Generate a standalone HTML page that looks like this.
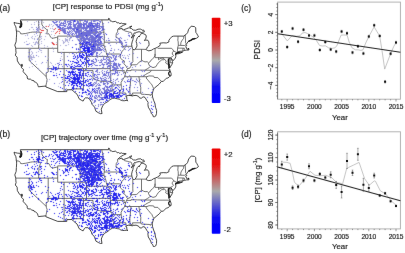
<!DOCTYPE html><html><head><meta charset="utf-8"><style>
html,body{margin:0;padding:0;background:#fff;width:405px;height:253px;overflow:hidden}
svg{display:block;font-family:"Liberation Sans",sans-serif}
</style></head><body>
<svg width="405" height="253" viewBox="0 0 405 253" xmlns="http://www.w3.org/2000/svg">
<defs>
<filter id="bl" x="0" y="0" width="405" height="253" filterUnits="userSpaceOnUse"><feConvolveMatrix order="3" kernelMatrix="0.0113 0.0838 0.0113 0.0838 0.6193 0.0838 0.0113 0.0838 0.0113" edgeMode="none"/></filter>
<filter id="bl2" x="0" y="0" width="405" height="253" filterUnits="userSpaceOnUse"><feConvolveMatrix order="3" kernelMatrix="0.0003 0.0158 0.0003 0.0158 0.9358 0.0158 0.0003 0.0158 0.0003" edgeMode="none"/></filter>
<filter id="bl3" x="0" y="0" width="405" height="253" filterUnits="userSpaceOnUse"><feConvolveMatrix order="3" kernelMatrix="0.0016 0.0371 0.0016 0.0371 0.8450 0.0371 0.0016 0.0371 0.0016" edgeMode="none"/></filter>
<linearGradient id="cb" x1="0" y1="0" x2="0" y2="1">
<stop offset="0" stop-color="#ee0000"/><stop offset="0.18" stop-color="#e80a0a"/>
<stop offset="0.5" stop-color="#aaaaaa"/>
<stop offset="0.82" stop-color="#0a0af0"/><stop offset="1" stop-color="#0000ff"/>
</linearGradient>
</defs>
<rect width="405" height="253" fill="#fff"/>
<g filter="url(#bl2)">
<path d="M20.4 20.9L21.4 21.5L21.7 23.1L21.9 24.8L21.7 26.4L20.9 27.6L19.8 27.8L19.5 26.8L20.4 26.0L20.7 24.4L20.6 22.7ZM21.4 64.4L22.2 64.2L22.5 65.8L22.2 66.6L21.5 65.8Z" fill="#111" stroke="#111" stroke-width="0.5"/>
<path d="M189.0 41.2L190.6 40.4L192.2 39.4L193.5 39.0L194.8 38.6" fill="none" stroke="#222" stroke-width="1.5" stroke-linecap="round" stroke-linejoin="round"/>
<path d="M175.6 54.0L176.6 53.4L177.8 52.6L179.4 52.2" fill="none" stroke="#222" stroke-width="1.2" stroke-linecap="round" stroke-linejoin="round"/>
<path d="M168.4 58.9L168.6 60.5L168.8 62.1L168.6 63.7L168.9 65.4L169.2 67.4" fill="none" stroke="#222" stroke-width="1.3" stroke-linecap="round" stroke-linejoin="round"/>
<path d="M169.6 71.5L168.6 73.1L168.9 74.7L169.9 75.5" fill="none" stroke="#222" stroke-width="1.3" stroke-linecap="round" stroke-linejoin="round"/>
<path d="M14.1 22.4L15.5 22.9L17.4 23.3L19.3 23.5L20.3 23.6L20.4 25.2L19.8 27.2L21.1 26.8L21.5 25.4L21.9 24.0L21.2 22.3L20.7 20.9L20.4 19.9L108.5 19.9L108.5 18.4L109.4 18.6L110.0 20.4L110.2 21.0L111.3 21.1L112.8 21.8L113.9 21.6L115.5 21.4L116.6 22.1L117.3 23.0L118.5 22.7L119.8 23.6L121.7 23.1L122.3 23.6L123.9 23.6L126.2 24.0L123.6 25.2L120.7 26.8L118.2 29.0L119.2 29.2L121.1 28.5L122.0 28.2L122.3 29.6L123.6 29.8L126.2 28.8L128.4 28.0L130.0 26.6L131.9 26.1L130.6 27.2L129.7 28.2L131.3 28.4L133.2 30.0L135.7 30.3L138.0 29.2L140.8 29.0L142.1 30.3L143.7 30.0L144.4 31.9L142.4 32.3L141.6 32.6L139.2 31.7L136.7 32.3L134.8 33.3L134.5 32.7L132.5 35.7L131.3 38.0L132.9 36.7L134.5 34.9L133.2 37.8L132.9 39.8L132.2 41.8L131.6 44.3L131.9 46.3L132.5 48.7L132.8 49.5L134.5 49.7L135.1 49.3L136.1 47.9L137.0 45.9L136.7 43.4L136.1 41.6L136.7 39.4L137.3 37.8L138.9 36.1L139.2 37.0L139.9 35.3L140.8 34.5L141.5 33.1L143.4 33.7L145.6 34.7L146.3 36.1L145.9 38.2L144.4 40.6L145.6 40.2L147.5 40.0L148.8 41.8L149.1 44.3L148.8 45.9L147.5 46.9L146.9 48.3L145.8 49.4L147.2 50.3L148.8 50.8L151.4 50.3L153.6 48.9L155.1 48.4L157.6 47.2L160.0 45.5L160.3 44.7L159.8 43.2L163.2 42.8L166.4 43.0L168.9 42.0L168.9 40.2L170.2 38.6L171.8 36.7L173.7 36.1L183.9 36.1L185.2 34.9L186.1 34.5L187.7 32.5L188.7 29.2L191.2 26.2L194.4 26.6L195.7 27.7L195.8 32.3L196.8 33.7L197.9 35.7L198.4 36.9L196.7 38.2L194.4 38.8L192.5 38.6L191.6 40.2L189.3 41.0L188.1 41.6L186.8 43.7L186.5 44.1L186.1 44.8L186.8 45.7L185.5 46.9L186.5 47.5L186.9 49.1L188.7 49.3L188.5 48.1L188.9 49.5L188.7 50.1L187.1 50.1L186.6 50.1L185.5 50.3L185.1 50.3L184.2 50.6L182.8 51.1L179.4 51.4L177.0 52.4L176.6 53.2L175.9 54.0L175.1 54.4L175.9 54.8L175.8 56.4L175.3 58.1L173.1 60.7L172.4 59.7L171.1 58.3L171.0 57.9L171.5 59.3L172.4 61.3L172.6 62.7L171.9 64.4L170.8 66.2L169.6 68.2L169.6 67.8L169.7 65.0L168.9 63.3L168.6 61.3L169.2 59.3L169.6 58.3L168.3 59.7L168.0 60.9L168.3 63.1L168.4 64.4L168.6 66.6L168.6 68.6L169.6 69.0L170.0 70.4L171.1 73.5L171.1 75.7L169.6 76.5L168.0 78.0L166.4 78.2L163.8 80.8L163.3 81.4L161.4 81.4L159.3 84.0L157.1 85.9L155.2 87.3L153.9 88.7L153.0 90.9L152.2 94.1L152.6 97.0L153.6 100.3L154.9 103.3L155.5 107.2L156.6 110.4L156.5 113.7L155.7 116.1L154.6 116.7L153.3 116.7L152.8 114.9L151.4 113.7L150.7 111.2L149.5 109.2L148.3 107.2L147.9 104.3L148.2 102.3L146.9 100.7L145.0 97.4L143.1 96.8L141.2 98.3L139.6 97.9L138.6 96.4L136.1 95.4L133.5 95.6L132.9 95.9L131.6 96.0L131.3 94.6L131.0 95.6L130.0 95.5L128.1 95.4L126.2 96.2L125.8 97.0L126.8 97.4L126.8 99.1L127.6 101.1L126.8 100.3L124.6 100.7L122.7 100.7L120.7 100.1L119.2 99.1L117.6 98.9L114.7 98.1L112.6 98.3L109.9 99.7L108.0 101.5L104.5 103.5L102.6 106.0L101.3 109.2L101.9 113.3L102.1 113.5L100.6 113.7L98.7 112.9L95.9 111.2L94.6 107.2L92.0 104.3L91.4 102.3L89.8 99.5L87.9 97.9L85.3 97.9L84.4 98.7L83.1 101.1L81.5 100.3L79.0 98.7L78.0 96.2L77.0 94.2L75.1 92.6L73.5 91.4L71.9 89.7L66.8 89.8L66.8 91.6L57.7 91.6L45.8 86.9L46.0 86.0L38.4 86.8L38.0 85.7L37.5 84.0L35.6 82.0L34.3 81.8L34.0 80.8L31.7 80.2L30.5 79.2L27.8 79.0L27.3 78.0L27.1 75.9L25.0 73.9L23.1 71.5L23.5 69.4L22.8 68.8L21.5 67.8L21.2 65.4L19.6 64.6L17.4 60.9L17.1 57.3L15.3 55.2L16.1 52.8L15.8 50.3L15.8 48.3L14.8 45.1L16.1 41.8L16.4 37.8L16.6 34.1L16.6 31.1L16.3 31.1L16.1 28.4L15.8 26.8L14.5 24.4L14.1 22.4ZM175.9 54.0L179.1 53.6L182.6 52.1L180.7 52.6L177.5 52.8L175.9 53.8Z" fill="none" stroke="#1a1a1a" stroke-width="0.8" stroke-linejoin="round"/>
<path d="M16.3 31.1L18.0 31.1L19.6 31.7L20.3 32.7L20.6 33.7L22.2 33.9L25.4 33.5L27.3 33.1L30.5 32.4L32.4 32.1L39.0 32.1M38.6 19.9L38.6 30.3L39.0 32.1M39.0 32.1L40.4 33.7L39.7 36.1L38.8 38.2L39.1 40.2L38.7 41.0L38.7 48.3M15.8 48.3L57.7 48.3M29.2 48.3L29.2 60.5L46.3 76.7L46.4 77.6L47.1 79.6L46.6 82.4L46.1 84.9L46.0 86.0M46.3 76.7L46.1 73.1L48.2 71.9L48.2 48.3M48.2 68.6L86.5 68.6M64.1 52.4L64.1 91.6M57.7 52.4L64.1 52.4M57.7 48.3L57.7 52.4M57.7 48.3L57.7 36.1M57.7 38.2L56.6 37.4L53.8 38.0L52.2 38.6L50.6 37.0L49.9 35.7L48.7 33.7L46.7 33.9L47.1 32.1L47.4 29.6L46.4 29.4L45.1 28.2L42.9 26.4L41.8 24.2L41.8 19.9M57.7 36.1L80.1 36.1M80.1 19.9L80.1 52.4M64.1 52.4L86.5 52.4L86.5 68.6M83.4 68.6L83.4 88.9L71.9 88.9L71.9 89.7M83.4 70.6L93.0 70.6L93.0 78.5L94.6 79.2L96.2 80.0L97.8 80.4L99.4 80.8L101.0 81.4L102.6 81.4L104.2 81.6L105.8 81.4L107.3 81.3L108.9 81.4L110.6 82.3M110.6 82.3L112.0 82.6L112.0 88.9L112.8 90.9L113.6 93.0L113.4 95.0L112.9 96.6L112.6 98.3M112.0 84.8L121.2 84.9M121.2 84.9L121.4 86.9L121.9 88.9L120.1 90.5L119.7 93.0L125.8 93.0L126.2 96.2M86.5 68.6L110.2 68.6M110.2 68.6L110.2 70.6L110.8 75.2L110.6 82.3M86.5 56.4L108.0 56.4M110.2 68.6L110.2 60.1L109.3 58.5L108.6 56.8L108.0 56.4M80.1 44.3L97.8 44.3L101.0 44.9L103.2 45.3L104.3 46.3M104.3 46.3L105.1 48.3L105.9 50.3L106.2 52.4L106.6 54.0L108.0 56.4M106.5 54.0L119.4 54.0L120.4 54.9M80.1 32.3L104.0 32.3M101.8 19.9L102.2 21.9L102.9 24.4L103.2 28.0L103.8 30.9L104.0 32.3M104.0 32.3L104.0 33.7L104.3 34.9L104.3 42.2L103.8 44.3L104.3 46.3M104.3 42.2L121.0 42.2M121.0 42.2L120.7 41.0L118.8 39.0L117.6 38.0L116.0 37.2L116.1 35.7L116.3 33.7L117.6 31.8L117.6 29.4L118.2 29.0M121.0 42.2L121.4 44.3L122.9 46.3L124.3 47.9L124.3 49.1L123.3 50.3L121.7 51.6L121.4 53.2L120.4 54.9L120.1 56.4L120.4 58.1L122.7 60.1L124.3 60.9L124.3 62.1L123.9 63.7L126.2 66.2L126.5 67.4L127.6 68.6M127.6 68.6L126.5 70.6L125.8 72.7L125.1 74.7L124.6 76.7L123.0 79.2L121.1 82.4L121.2 84.9M110.2 70.6L124.4 70.6L123.7 72.7L125.8 72.7M124.6 76.7L143.0 76.7M143.0 76.7L144.0 75.5L145.6 74.5L147.2 73.5L148.8 72.7L150.4 71.9L151.4 70.3M126.5 70.6L131.0 70.6L131.0 69.9L137.7 70.1L145.1 70.2L151.4 70.3M145.1 70.2L147.5 68.6L149.5 67.4L150.5 66.4M150.5 66.4L149.5 65.8L148.5 63.7L148.5 62.9L147.2 61.7L145.0 61.9L143.4 61.3L141.5 60.1L140.8 61.5L139.6 61.7L138.3 63.3L136.7 64.6L135.1 64.8L132.5 64.8L131.1 65.4L130.6 66.6L129.7 68.2L127.6 68.6M131.1 65.4L131.6 63.3L132.9 61.7L132.8 59.1L132.8 49.5M122.9 46.3L131.9 46.3M135.1 49.3L141.5 49.3L145.8 49.4M141.5 49.3L141.5 60.1M148.5 62.9L149.8 62.1L151.1 60.1L152.3 59.1L153.9 57.7L154.9 55.6L155.1 53.8M155.1 53.8L155.1 48.4M155.1 53.8L155.1 57.6L170.3 57.6M158.5 57.6L158.5 59.7L160.0 58.7L161.6 58.3L163.2 57.9L164.1 59.2M150.5 66.4L153.0 67.6L155.8 66.8L157.1 64.6L158.4 62.7L160.0 61.3L161.9 59.7L163.7 59.9L164.1 59.2M164.1 59.2L164.9 59.7L166.0 60.7L166.2 61.3L165.6 62.9L166.7 63.7L168.4 64.4M151.4 70.3L170.0 70.4M161.4 81.4L157.8 77.6L154.2 77.5L153.8 76.3L153.4 76.1L149.1 75.9L146.9 76.7L143.0 76.7M153.9 88.7L152.6 86.5L152.0 84.9L150.7 83.4L149.8 82.4L148.5 80.8L147.2 79.2L146.1 78.0L146.9 76.7M138.9 76.7L140.3 85.5L140.8 87.7L140.7 90.5L140.8 93.0L141.3 94.2L149.7 94.7L150.3 95.6L150.6 94.6L152.2 94.1M140.8 93.0L132.5 93.0L133.0 95.8M130.6 76.7L131.0 77.1L129.8 89.3L130.0 95.5M157.6 48.3L171.6 48.3L172.4 49.1L173.7 51.0L172.4 52.6L172.3 54.0L173.5 55.6L172.4 56.6L171.1 57.3L170.3 57.6M170.3 57.6L170.2 62.7L172.6 62.7M173.7 51.0L176.3 52.4L175.9 53.6M177.0 52.4L176.8 52.0L177.6 51.6L177.4 51.2L177.6 48.1L178.3 45.3L178.2 41.8L177.8 40.2L178.0 38.2L178.0 36.1M178.3 45.3L180.8 45.4L184.5 45.5L186.1 44.8M180.8 45.4L180.7 44.3L181.0 42.2L182.2 40.2L183.6 38.4L183.9 36.1M186.5 44.1L185.6 42.8L185.5 40.2L185.2 34.9M177.6 48.1L183.0 48.2L184.3 48.2L184.4 49.4L185.1 50.3M183.0 48.2L182.8 51.1M123.6 29.8L124.6 30.9L127.8 31.6L129.0 32.1L131.0 32.3L131.6 32.9L131.9 34.7L132.5 35.7" fill="none" stroke="#3a3a3a" stroke-width="0.7" stroke-linejoin="round"/>
<path d="M20.4 150.7L21.4 151.3L21.7 152.9L21.9 154.6L21.7 156.2L20.9 157.4L19.8 157.6L19.5 156.6L20.4 155.8L20.7 154.2L20.6 152.5ZM21.4 194.2L22.2 194.0L22.5 195.6L22.2 196.4L21.5 195.6Z" fill="#111" stroke="#111" stroke-width="0.5"/>
<path d="M189.0 171.0L190.6 170.2L192.2 169.2L193.5 168.8L194.8 168.4" fill="none" stroke="#222" stroke-width="1.5" stroke-linecap="round" stroke-linejoin="round"/>
<path d="M175.6 183.8L176.6 183.2L177.8 182.4L179.4 182.0" fill="none" stroke="#222" stroke-width="1.2" stroke-linecap="round" stroke-linejoin="round"/>
<path d="M168.4 188.7L168.6 190.3L168.8 191.9L168.6 193.5L168.9 195.2L169.2 197.2" fill="none" stroke="#222" stroke-width="1.3" stroke-linecap="round" stroke-linejoin="round"/>
<path d="M169.6 201.3L168.6 202.9L168.9 204.5L169.9 205.3" fill="none" stroke="#222" stroke-width="1.3" stroke-linecap="round" stroke-linejoin="round"/>
<path d="M14.1 152.2L15.5 152.7L17.4 153.1L19.3 153.3L20.3 153.4L20.4 155.0L19.8 157.0L21.1 156.6L21.5 155.2L21.9 153.8L21.2 152.1L20.7 150.7L20.4 149.7L108.5 149.7L108.5 148.2L109.4 148.4L110.0 150.2L110.2 150.8L111.3 150.9L112.8 151.6L113.9 151.4L115.5 151.2L116.6 151.9L117.3 152.8L118.5 152.5L119.8 153.4L121.7 152.9L122.3 153.4L123.9 153.4L126.2 153.8L123.6 155.0L120.7 156.6L118.2 158.8L119.2 159.0L121.1 158.3L122.0 158.0L122.3 159.4L123.6 159.6L126.2 158.6L128.4 157.8L130.0 156.4L131.9 155.9L130.6 157.0L129.7 158.0L131.3 158.2L133.2 159.9L135.7 160.1L138.0 159.0L140.8 158.8L142.1 160.1L143.7 159.9L144.4 161.7L142.4 162.1L141.6 162.4L139.2 161.5L136.7 162.1L134.8 163.1L134.5 162.5L132.5 165.5L131.3 167.8L132.9 166.5L134.5 164.7L133.2 167.6L132.9 169.6L132.2 171.6L131.6 174.1L131.9 176.1L132.5 178.5L132.8 179.3L134.5 179.5L135.1 179.1L136.1 177.7L137.0 175.7L136.7 173.2L136.1 171.4L136.7 169.2L137.3 167.6L138.9 165.9L139.2 166.8L139.9 165.1L140.8 164.3L141.5 162.9L143.4 163.5L145.6 164.5L146.3 165.9L145.9 168.0L144.4 170.4L145.6 170.0L147.5 169.8L148.8 171.6L149.1 174.1L148.8 175.7L147.5 176.7L146.9 178.1L145.8 179.2L147.2 180.2L148.8 180.6L151.4 180.2L153.6 178.7L155.1 178.2L157.6 177.0L160.0 175.3L160.3 174.5L159.8 173.0L163.2 172.6L166.4 172.8L168.9 171.8L168.9 170.0L170.2 168.4L171.8 166.5L173.7 165.9L183.9 165.9L185.2 164.7L186.1 164.3L187.7 162.3L188.7 159.0L191.2 156.0L194.4 156.4L195.7 157.5L195.8 162.1L196.8 163.5L197.9 165.5L198.4 166.7L196.7 168.0L194.4 168.6L192.5 168.4L191.6 170.0L189.3 170.8L188.1 171.4L186.8 173.5L186.5 173.9L186.1 174.6L186.8 175.5L185.5 176.7L186.5 177.3L186.9 178.9L188.7 179.1L188.5 177.9L188.9 179.3L188.7 179.9L187.1 179.9L186.6 179.9L185.5 180.2L185.1 180.2L184.2 180.4L182.8 180.9L179.4 181.2L177.0 182.2L176.6 183.0L175.9 183.8L175.1 184.2L175.9 184.6L175.8 186.2L175.3 187.9L173.1 190.5L172.4 189.5L171.1 188.1L171.0 187.7L171.5 189.1L172.4 191.1L172.6 192.5L171.9 194.2L170.8 196.0L169.6 198.0L169.6 197.6L169.7 194.8L168.9 193.1L168.6 191.1L169.2 189.1L169.6 188.1L168.3 189.5L168.0 190.7L168.3 192.9L168.4 194.2L168.6 196.4L168.6 198.4L169.6 198.8L170.0 200.2L171.1 203.3L171.1 205.5L169.6 206.3L168.0 207.8L166.4 208.0L163.8 210.6L163.3 211.2L161.4 211.2L159.3 213.8L157.1 215.7L155.2 217.1L153.9 218.5L153.0 220.8L152.2 223.9L152.6 226.8L153.6 230.1L154.9 233.1L155.5 237.0L156.6 240.2L156.5 243.5L155.7 245.9L154.6 246.5L153.3 246.5L152.8 244.7L151.4 243.5L150.7 241.1L149.5 239.0L148.3 237.0L147.9 234.1L148.2 232.1L146.9 230.5L145.0 227.2L143.1 226.6L141.2 228.1L139.6 227.7L138.6 226.2L136.1 225.2L133.5 225.4L132.9 225.7L131.6 225.8L131.3 224.4L131.0 225.4L130.0 225.3L128.1 225.2L126.2 226.0L125.8 226.8L126.8 227.2L126.8 228.9L127.6 230.9L126.8 230.1L124.6 230.5L122.7 230.5L120.7 229.9L119.2 228.9L117.6 228.7L114.7 227.9L112.6 228.1L109.9 229.5L108.0 231.3L104.5 233.3L102.6 235.8L101.3 239.0L101.9 243.1L102.1 243.3L100.6 243.5L98.7 242.7L95.9 241.1L94.6 237.0L92.0 234.1L91.4 232.1L89.8 229.3L87.9 227.7L85.3 227.7L84.4 228.5L83.1 230.9L81.5 230.1L79.0 228.5L78.0 226.0L77.0 224.0L75.1 222.4L73.5 221.2L71.9 219.5L66.8 219.6L66.8 221.4L57.7 221.4L45.8 216.7L46.0 215.8L38.4 216.6L38.0 215.5L37.5 213.8L35.6 211.8L34.3 211.6L34.0 210.6L31.7 210.0L30.5 209.0L27.8 208.8L27.3 207.8L27.1 205.7L25.0 203.7L23.1 201.3L23.5 199.2L22.8 198.6L21.5 197.6L21.2 195.2L19.6 194.4L17.4 190.7L17.1 187.1L15.3 185.0L16.1 182.6L15.8 180.2L15.8 178.1L14.8 174.9L16.1 171.6L16.4 167.6L16.6 163.9L16.6 160.9L16.3 160.9L16.1 158.2L15.8 156.6L14.5 154.2L14.1 152.2ZM175.9 183.8L179.1 183.4L182.6 181.9L180.7 182.4L177.5 182.6L175.9 183.6Z" fill="none" stroke="#1a1a1a" stroke-width="0.8" stroke-linejoin="round"/>
<path d="M16.3 160.9L18.0 160.9L19.6 161.5L20.3 162.5L20.6 163.5L22.2 163.7L25.4 163.3L27.3 162.9L30.5 162.2L32.4 161.9L39.0 161.9M38.6 149.7L38.6 160.1L39.0 161.9M39.0 161.9L40.4 163.5L39.7 165.9L38.8 168.0L39.1 170.0L38.7 170.8L38.7 178.1M15.8 178.1L57.7 178.1M29.2 178.1L29.2 190.3L46.3 206.5L46.4 207.4L47.1 209.4L46.6 212.2L46.1 214.7L46.0 215.8M46.3 206.5L46.1 202.9L48.2 201.7L48.2 178.1M48.2 198.4L86.5 198.4M64.1 182.2L64.1 221.4M57.7 182.2L64.1 182.2M57.7 178.1L57.7 182.2M57.7 178.1L57.7 165.9M57.7 168.0L56.6 167.2L53.8 167.8L52.2 168.4L50.6 166.8L49.9 165.5L48.7 163.5L46.7 163.7L47.1 161.9L47.4 159.4L46.4 159.2L45.1 158.0L42.9 156.2L41.8 154.0L41.8 149.7M57.7 165.9L80.1 165.9M80.1 149.7L80.1 182.2M64.1 182.2L86.5 182.2L86.5 198.4M83.4 198.4L83.4 218.7L71.9 218.7L71.9 219.5M83.4 200.4L93.0 200.4L93.0 208.3L94.6 209.0L96.2 209.8L97.8 210.2L99.4 210.6L101.0 211.2L102.6 211.2L104.2 211.4L105.8 211.2L107.3 211.1L108.9 211.2L110.6 212.1M110.6 212.1L112.0 212.4L112.0 218.7L112.8 220.8L113.6 222.8L113.4 224.8L112.9 226.4L112.6 228.1M112.0 214.6L121.2 214.7M121.2 214.7L121.4 216.7L121.9 218.7L120.1 220.3L119.7 222.8L125.8 222.8L126.2 226.0M86.5 198.4L110.2 198.4M110.2 198.4L110.2 200.4L110.8 205.0L110.6 212.1M86.5 186.2L108.0 186.2M110.2 198.4L110.2 189.9L109.3 188.3L108.6 186.6L108.0 186.2M80.1 174.1L97.8 174.1L101.0 174.7L103.2 175.1L104.3 176.1M104.3 176.1L105.1 178.1L105.9 180.2L106.2 182.2L106.6 183.8L108.0 186.2M106.5 183.8L119.4 183.8L120.4 184.7M80.1 162.1L104.0 162.1M101.8 149.7L102.2 151.7L102.9 154.2L103.2 157.8L103.8 160.7L104.0 162.1M104.0 162.1L104.0 163.5L104.3 164.7L104.3 172.0L103.8 174.1L104.3 176.1M104.3 172.0L121.0 172.0M121.0 172.0L120.7 170.8L118.8 168.8L117.6 167.8L116.0 167.0L116.1 165.5L116.3 163.5L117.6 161.6L117.6 159.2L118.2 158.8M121.0 172.0L121.4 174.1L122.9 176.1L124.3 177.7L124.3 178.9L123.3 180.2L121.7 181.4L121.4 183.0L120.4 184.7L120.1 186.2L120.4 187.9L122.7 189.9L124.3 190.7L124.3 191.9L123.9 193.5L126.2 196.0L126.5 197.2L127.6 198.4M127.6 198.4L126.5 200.4L125.8 202.5L125.1 204.5L124.6 206.5L123.0 209.0L121.1 212.2L121.2 214.7M110.2 200.4L124.4 200.4L123.7 202.5L125.8 202.5M124.6 206.5L143.0 206.5M143.0 206.5L144.0 205.3L145.6 204.3L147.2 203.3L148.8 202.5L150.4 201.7L151.4 200.1M126.5 200.4L131.0 200.4L131.0 199.7L137.7 199.9L145.1 200.0L151.4 200.1M145.1 200.0L147.5 198.4L149.5 197.2L150.5 196.2M150.5 196.2L149.5 195.6L148.5 193.5L148.5 192.7L147.2 191.5L145.0 191.7L143.4 191.1L141.5 189.9L140.8 191.3L139.6 191.5L138.3 193.1L136.7 194.4L135.1 194.6L132.5 194.6L131.1 195.2L130.6 196.4L129.7 198.0L127.6 198.4M131.1 195.2L131.6 193.1L132.9 191.5L132.8 188.9L132.8 179.3M122.9 176.1L131.9 176.1M135.1 179.1L141.5 179.1L145.8 179.2M141.5 179.1L141.5 189.9M148.5 192.7L149.8 191.9L151.1 189.9L152.3 188.9L153.9 187.5L154.9 185.4L155.1 183.6M155.1 183.6L155.1 178.2M155.1 183.6L155.1 187.4L170.3 187.4M158.5 187.4L158.5 189.5L160.0 188.5L161.6 188.1L163.2 187.7L164.1 189.0M150.5 196.2L153.0 197.4L155.8 196.6L157.1 194.4L158.4 192.5L160.0 191.1L161.9 189.5L163.7 189.7L164.1 189.0M164.1 189.0L164.9 189.5L166.0 190.5L166.2 191.1L165.6 192.7L166.7 193.5L168.4 194.2M151.4 200.1L170.0 200.2M161.4 211.2L157.8 207.4L154.2 207.3L153.8 206.1L153.4 205.9L149.1 205.7L146.9 206.5L143.0 206.5M153.9 218.5L152.6 216.3L152.0 214.7L150.7 213.2L149.8 212.2L148.5 210.6L147.2 209.0L146.1 207.8L146.9 206.5M138.9 206.5L140.3 215.3L140.8 217.5L140.7 220.3L140.8 222.8L141.3 224.0L149.7 224.5L150.3 225.4L150.6 224.4L152.2 223.9M140.8 222.8L132.5 222.8L133.0 225.6M130.6 206.5L131.0 206.9L129.8 219.1L130.0 225.3M157.6 178.1L171.6 178.1L172.4 178.9L173.7 180.8L172.4 182.4L172.3 183.8L173.5 185.4L172.4 186.4L171.1 187.1L170.3 187.4M170.3 187.4L170.2 192.5L172.6 192.5M173.7 180.8L176.3 182.2L175.9 183.4M177.0 182.2L176.8 181.8L177.6 181.4L177.4 181.0L177.6 177.9L178.3 175.1L178.2 171.6L177.8 170.0L178.0 168.0L178.0 165.9M178.3 175.1L180.8 175.2L184.5 175.3L186.1 174.6M180.8 175.2L180.7 174.1L181.0 172.0L182.2 170.0L183.6 168.2L183.9 165.9M186.5 173.9L185.6 172.6L185.5 170.0L185.2 164.7M177.6 177.9L183.0 178.0L184.3 178.0L184.4 179.2L185.1 180.2M183.0 178.0L182.8 180.9M123.6 159.6L124.6 160.7L127.8 161.4L129.0 161.9L131.0 162.1L131.6 162.7L131.9 164.5L132.5 165.5" fill="none" stroke="#3a3a3a" stroke-width="0.7" stroke-linejoin="round"/>
</g>
<g filter="url(#bl)">
<path d="M24 42h1v1h-1zM25 35h1v1h-1zM26 41h1v1h-1zM26 44h1v1h-1zM27 21h1v1h-1zM27 34h1v1h-1zM27 35h1v1h-1zM28 38h1v1h-1zM28 44h1v1h-1zM28 52h1v1h-1zM28 56h1v1h-1zM28 57h1v1h-1zM29 29h1v1h-1zM29 43h1v1h-1zM29 48h1v1h-1zM29 55h1v1h-1zM29 67h1v1h-1zM30 55h1v1h-1zM30 56h1v1h-1zM30 57h1v1h-1zM30 58h1v1h-1zM30 60h1v1h-1zM31 24h1v1h-1zM31 27h1v1h-1zM31 37h1v1h-1zM31 45h1v1h-1zM31 51h1v1h-1zM31 54h1v1h-1zM31 56h1v1h-1zM31 57h1v1h-1zM31 58h1v1h-1zM31 59h1v1h-1zM31 62h1v1h-1zM31 63h1v1h-1zM32 27h1v1h-1zM32 36h1v1h-1zM32 38h1v1h-1zM32 46h1v1h-1zM32 52h1v1h-1zM32 53h1v1h-1zM32 57h1v1h-1zM32 59h1v1h-1zM32 66h1v1h-1zM33 29h1v1h-1zM33 42h1v1h-1zM33 55h1v1h-1zM33 56h1v1h-1zM33 57h1v1h-1zM34 22h1v1h-1zM34 24h1v1h-1zM34 31h1v1h-1zM34 34h1v1h-1zM34 38h1v1h-1zM34 39h1v1h-1zM34 44h1v1h-1zM34 57h1v1h-1zM35 36h1v1h-1zM35 42h1v1h-1zM35 43h1v1h-1zM35 44h1v1h-1zM35 61h1v1h-1zM36 21h1v1h-1zM36 29h1v1h-1zM36 33h1v1h-1zM36 41h1v1h-1zM36 42h1v1h-1zM36 52h1v1h-1zM36 64h1v1h-1zM37 29h1v1h-1zM37 35h1v1h-1zM37 38h1v1h-1zM37 42h1v1h-1zM37 43h1v1h-1zM38 20h1v1h-1zM38 23h1v1h-1zM38 26h1v1h-1zM38 28h1v1h-1zM38 29h1v1h-1zM38 30h1v1h-1zM38 31h1v1h-1zM38 32h1v1h-1zM38 44h1v1h-1zM38 51h1v1h-1zM38 56h1v1h-1zM38 68h1v1h-1zM38 69h1v1h-1zM39 22h1v1h-1zM39 24h1v1h-1zM39 26h1v1h-1zM39 27h1v1h-1zM39 28h1v1h-1zM39 29h1v1h-1zM39 44h1v1h-1zM39 48h1v1h-1zM40 20h1v1h-1zM40 29h1v1h-1zM40 36h1v1h-1zM40 37h1v1h-1zM40 39h1v1h-1zM40 48h1v1h-1zM40 50h1v1h-1zM41 21h1v1h-1zM41 30h1v1h-1zM41 36h1v1h-1zM41 38h1v1h-1zM41 41h1v1h-1zM41 43h1v1h-1zM41 50h1v1h-1zM41 52h1v1h-1zM41 63h1v1h-1zM42 27h1v1h-1zM42 28h1v1h-1zM43 22h1v1h-1zM43 27h1v1h-1zM44 39h1v1h-1zM44 45h1v1h-1zM44 47h1v1h-1zM45 26h1v1h-1zM45 33h1v1h-1zM45 36h1v1h-1zM46 62h1v1h-1zM47 33h1v1h-1zM47 46h1v1h-1zM47 69h1v1h-1zM47 81h1v1h-1zM48 57h1v1h-1zM49 24h1v1h-1zM49 25h1v1h-1zM49 66h1v1h-1zM49 79h1v1h-1zM50 28h1v1h-1zM50 62h1v1h-1zM51 24h1v1h-1zM51 31h1v1h-1zM51 34h1v1h-1zM51 42h1v1h-1zM51 63h1v1h-1zM52 26h1v1h-1zM52 28h1v1h-1zM52 37h1v1h-1zM52 47h1v1h-1zM52 65h1v1h-1zM52 68h1v1h-1zM53 25h1v1h-1zM53 29h1v1h-1zM53 31h1v1h-1zM53 49h1v1h-1zM53 51h1v1h-1zM54 35h1v1h-1zM54 68h1v1h-1zM55 64h1v1h-1zM56 25h1v1h-1zM56 42h1v1h-1zM56 67h1v1h-1zM57 27h1v1h-1zM58 66h1v1h-1zM58 86h1v1h-1zM59 21h1v1h-1zM59 28h1v1h-1zM59 29h1v1h-1zM59 39h1v1h-1zM59 62h1v1h-1zM59 83h1v1h-1zM60 24h1v1h-1zM60 29h1v1h-1zM60 45h1v1h-1zM60 58h1v1h-1zM61 29h1v1h-1zM61 52h1v1h-1zM61 56h1v1h-1zM62 31h1v1h-1zM62 40h1v1h-1zM62 59h1v1h-1zM63 22h1v1h-1zM63 23h1v1h-1zM63 27h1v1h-1zM63 28h1v1h-1zM63 31h1v1h-1zM63 41h1v1h-1zM63 42h1v1h-1zM63 43h1v1h-1zM63 49h1v1h-1zM63 54h1v1h-1zM64 42h1v1h-1zM65 28h1v1h-1zM65 29h1v1h-1zM65 38h1v1h-1zM65 39h1v1h-1zM65 40h1v1h-1zM65 41h1v1h-1zM65 45h1v1h-1zM66 28h1v1h-1zM66 39h1v1h-1zM66 40h1v1h-1zM66 45h1v1h-1zM66 88h1v1h-1zM67 20h1v1h-1zM67 31h1v1h-1zM67 36h1v1h-1zM67 37h1v1h-1zM67 39h1v1h-1zM67 40h1v1h-1zM67 41h1v1h-1zM67 71h1v1h-1zM68 27h1v1h-1zM68 29h1v1h-1zM68 36h1v1h-1zM68 42h1v1h-1zM68 44h1v1h-1zM69 21h1v1h-1zM69 22h1v1h-1zM69 23h1v1h-1zM69 30h1v1h-1zM69 35h1v1h-1zM69 38h1v1h-1zM69 39h1v1h-1zM69 40h1v1h-1zM69 53h1v1h-1zM70 20h1v1h-1zM70 22h1v1h-1zM70 24h1v1h-1zM70 29h1v1h-1zM70 31h1v1h-1zM70 37h1v1h-1zM70 38h1v1h-1zM71 26h1v1h-1zM71 34h1v1h-1zM72 28h1v1h-1zM72 35h1v1h-1zM72 76h1v1h-1zM73 21h1v1h-1zM73 24h1v1h-1zM73 25h1v1h-1zM73 26h1v1h-1zM73 29h1v1h-1zM74 20h1v1h-1zM74 28h1v1h-1zM74 31h1v1h-1zM75 26h1v1h-1zM76 24h1v1h-1zM76 27h1v1h-1zM76 32h1v1h-1zM77 23h1v1h-1zM77 28h1v1h-1zM77 30h1v1h-1zM77 38h1v1h-1zM77 39h1v1h-1zM78 26h1v1h-1zM78 28h1v1h-1zM78 30h1v1h-1zM78 32h1v1h-1zM78 35h1v1h-1zM78 37h1v1h-1zM79 27h1v1h-1zM79 29h1v1h-1zM79 31h1v1h-1zM79 35h1v1h-1zM79 39h1v1h-1zM79 40h1v1h-1zM80 23h1v1h-1zM80 24h1v1h-1zM80 30h1v1h-1zM80 31h1v1h-1zM80 32h1v1h-1zM80 38h1v1h-1zM81 24h1v1h-1zM81 29h1v1h-1zM81 39h1v1h-1zM81 45h1v1h-1zM82 36h1v1h-1zM82 39h1v1h-1zM83 37h1v1h-1zM83 40h1v1h-1zM83 43h1v1h-1zM84 23h1v1h-1zM84 24h1v1h-1zM84 28h1v1h-1zM84 40h1v1h-1zM84 41h1v1h-1zM85 29h1v1h-1zM85 33h1v1h-1zM85 34h1v1h-1zM85 36h1v1h-1zM85 40h1v1h-1zM85 41h1v1h-1zM85 42h1v1h-1zM86 30h1v1h-1zM86 31h1v1h-1zM86 33h1v1h-1zM86 47h1v1h-1zM87 27h1v1h-1zM87 33h1v1h-1zM87 39h1v1h-1zM87 42h1v1h-1zM87 95h1v1h-1zM88 25h1v1h-1zM88 32h1v1h-1zM88 36h1v1h-1zM88 41h1v1h-1zM88 43h1v1h-1zM88 48h1v1h-1zM88 53h1v1h-1zM89 22h1v1h-1zM89 32h1v1h-1zM89 33h1v1h-1zM89 37h1v1h-1zM89 38h1v1h-1zM89 40h1v1h-1zM89 43h1v1h-1zM89 45h1v1h-1zM89 49h1v1h-1zM89 86h1v1h-1zM90 20h1v1h-1zM90 24h1v1h-1zM90 26h1v1h-1zM90 31h1v1h-1zM90 36h1v1h-1zM90 37h1v1h-1zM90 38h1v1h-1zM90 40h1v1h-1zM90 46h1v1h-1zM91 24h1v1h-1zM91 26h1v1h-1zM91 31h1v1h-1zM91 32h1v1h-1zM91 37h1v1h-1zM91 42h1v1h-1zM91 47h1v1h-1zM91 48h1v1h-1zM91 53h1v1h-1zM91 56h1v1h-1zM92 23h1v1h-1zM92 24h1v1h-1zM92 26h1v1h-1zM92 33h1v1h-1zM92 37h1v1h-1zM92 38h1v1h-1zM92 39h1v1h-1zM92 40h1v1h-1zM92 41h1v1h-1zM92 45h1v1h-1zM92 47h1v1h-1zM92 51h1v1h-1zM92 100h1v1h-1zM93 30h1v1h-1zM93 31h1v1h-1zM93 33h1v1h-1zM93 36h1v1h-1zM93 37h1v1h-1zM93 38h1v1h-1zM93 42h1v1h-1zM93 51h1v1h-1zM93 52h1v1h-1zM93 54h1v1h-1zM93 62h1v1h-1zM93 84h1v1h-1zM93 102h1v1h-1zM94 25h1v1h-1zM94 26h1v1h-1zM94 27h1v1h-1zM94 28h1v1h-1zM94 31h1v1h-1zM94 38h1v1h-1zM94 41h1v1h-1zM94 42h1v1h-1zM94 43h1v1h-1zM94 46h1v1h-1zM94 48h1v1h-1zM94 49h1v1h-1zM94 51h1v1h-1zM94 56h1v1h-1zM94 74h1v1h-1zM94 88h1v1h-1zM94 98h1v1h-1zM95 21h1v1h-1zM95 23h1v1h-1zM95 26h1v1h-1zM95 36h1v1h-1zM95 38h1v1h-1zM95 41h1v1h-1zM95 43h1v1h-1zM95 48h1v1h-1zM95 49h1v1h-1zM95 82h1v1h-1zM96 23h1v1h-1zM96 25h1v1h-1zM96 31h1v1h-1zM96 42h1v1h-1zM96 48h1v1h-1zM96 49h1v1h-1zM96 56h1v1h-1zM96 82h1v1h-1zM96 83h1v1h-1zM96 86h1v1h-1zM96 88h1v1h-1zM97 23h1v1h-1zM97 27h1v1h-1zM97 34h1v1h-1zM97 36h1v1h-1zM97 40h1v1h-1zM97 48h1v1h-1zM97 49h1v1h-1zM97 50h1v1h-1zM97 53h1v1h-1zM97 71h1v1h-1zM97 78h1v1h-1zM97 97h1v1h-1zM98 23h1v1h-1zM98 26h1v1h-1zM98 29h1v1h-1zM98 34h1v1h-1zM98 36h1v1h-1zM98 37h1v1h-1zM98 42h1v1h-1zM98 46h1v1h-1zM98 48h1v1h-1zM98 49h1v1h-1zM98 50h1v1h-1zM98 56h1v1h-1zM98 105h1v1h-1zM99 24h1v1h-1zM99 27h1v1h-1zM99 28h1v1h-1zM99 32h1v1h-1zM99 35h1v1h-1zM99 39h1v1h-1zM99 40h1v1h-1zM99 42h1v1h-1zM99 45h1v1h-1zM99 49h1v1h-1zM99 97h1v1h-1zM100 20h1v1h-1zM100 37h1v1h-1zM100 38h1v1h-1zM100 42h1v1h-1zM100 43h1v1h-1zM100 45h1v1h-1zM100 53h1v1h-1zM100 90h1v1h-1zM100 105h1v1h-1zM101 41h1v1h-1zM101 42h1v1h-1zM101 60h1v1h-1zM101 64h1v1h-1zM101 71h1v1h-1zM101 102h1v1h-1zM102 26h1v1h-1zM102 32h1v1h-1zM102 55h1v1h-1zM102 78h1v1h-1zM102 93h1v1h-1zM103 23h1v1h-1zM103 26h1v1h-1zM103 66h1v1h-1zM103 83h1v1h-1zM104 77h1v1h-1zM105 93h1v1h-1zM105 94h1v1h-1zM106 62h1v1h-1zM106 63h1v1h-1zM106 82h1v1h-1zM106 98h1v1h-1zM107 57h1v1h-1zM107 62h1v1h-1zM107 81h1v1h-1zM107 89h1v1h-1zM107 90h1v1h-1zM108 83h1v1h-1zM108 87h1v1h-1zM108 89h1v1h-1zM109 62h1v1h-1zM109 65h1v1h-1zM109 94h1v1h-1zM109 98h1v1h-1zM110 56h1v1h-1zM110 71h1v1h-1zM110 72h1v1h-1zM110 73h1v1h-1zM110 89h1v1h-1zM111 53h1v1h-1zM111 57h1v1h-1zM111 65h1v1h-1zM111 73h1v1h-1zM111 84h1v1h-1zM111 88h1v1h-1zM113 57h1v1h-1zM113 64h1v1h-1zM113 68h1v1h-1zM113 69h1v1h-1zM113 84h1v1h-1zM114 49h1v1h-1zM114 50h1v1h-1zM114 68h1v1h-1zM114 70h1v1h-1zM114 88h1v1h-1zM114 89h1v1h-1zM115 57h1v1h-1zM115 59h1v1h-1zM115 60h1v1h-1zM115 67h1v1h-1zM115 69h1v1h-1zM116 57h1v1h-1zM116 64h1v1h-1zM116 67h1v1h-1zM116 69h1v1h-1zM117 79h1v1h-1zM118 49h1v1h-1zM118 74h1v1h-1zM118 75h1v1h-1zM119 85h1v1h-1zM120 68h1v1h-1zM121 87h1v1h-1zM122 42h1v1h-1zM122 92h1v1h-1zM123 63h1v1h-1zM124 45h1v1h-1zM124 55h1v1h-1zM125 40h1v1h-1zM125 57h1v1h-1zM127 39h1v1h-1zM127 55h1v1h-1zM128 56h1v1h-1zM133 69h1v1h-1zM133 80h1v1h-1zM136 78h1v1h-1zM140 79h1v1h-1zM144 94h1v1h-1zM148 102h1v1h-1zM151 92h1v1h-1zM151 97h1v1h-1zM151 101h1v1h-1z" fill="#ababd8"/>
<path d="M27 44h1v1h-1zM28 56h1v1h-1zM29 52h1v1h-1zM30 49h1v1h-1zM30 60h1v1h-1zM36 27h1v1h-1zM36 29h1v1h-1zM36 31h1v1h-1zM36 33h1v1h-1zM36 55h1v1h-1zM37 28h1v1h-1zM37 30h1v1h-1zM37 39h1v1h-1zM39 49h1v1h-1zM42 62h1v1h-1zM45 56h1v1h-1zM46 72h1v1h-1zM47 60h1v1h-1zM47 68h1v1h-1zM48 68h1v1h-1zM51 69h1v1h-1zM51 71h1v1h-1zM52 21h1v1h-1zM53 21h1v1h-1zM53 22h1v1h-1zM53 66h1v1h-1zM53 68h1v1h-1zM53 72h1v1h-1zM54 22h1v1h-1zM54 23h1v1h-1zM54 67h1v1h-1zM54 68h1v1h-1zM54 83h1v1h-1zM55 20h1v1h-1zM55 22h1v1h-1zM55 24h1v1h-1zM55 70h1v1h-1zM56 21h1v1h-1zM56 22h1v1h-1zM56 24h1v1h-1zM56 25h1v1h-1zM56 68h1v1h-1zM56 73h1v1h-1zM57 21h1v1h-1zM57 24h1v1h-1zM57 25h1v1h-1zM57 26h1v1h-1zM57 63h1v1h-1zM57 69h1v1h-1zM57 77h1v1h-1zM58 27h1v1h-1zM58 63h1v1h-1zM58 65h1v1h-1zM58 67h1v1h-1zM58 68h1v1h-1zM59 21h1v1h-1zM59 22h1v1h-1zM59 24h1v1h-1zM59 25h1v1h-1zM59 26h1v1h-1zM59 27h1v1h-1zM59 28h1v1h-1zM60 20h1v1h-1zM60 23h1v1h-1zM60 24h1v1h-1zM60 25h1v1h-1zM60 27h1v1h-1zM60 28h1v1h-1zM60 29h1v1h-1zM61 22h1v1h-1zM61 23h1v1h-1zM61 25h1v1h-1zM61 28h1v1h-1zM61 30h1v1h-1zM61 53h1v1h-1zM61 64h1v1h-1zM61 82h1v1h-1zM62 23h1v1h-1zM62 25h1v1h-1zM62 27h1v1h-1zM62 28h1v1h-1zM62 29h1v1h-1zM62 30h1v1h-1zM62 66h1v1h-1zM62 68h1v1h-1zM62 79h1v1h-1zM63 22h1v1h-1zM63 23h1v1h-1zM63 24h1v1h-1zM63 25h1v1h-1zM63 27h1v1h-1zM63 29h1v1h-1zM63 30h1v1h-1zM63 31h1v1h-1zM63 32h1v1h-1zM63 84h1v1h-1zM64 20h1v1h-1zM64 21h1v1h-1zM64 23h1v1h-1zM64 25h1v1h-1zM64 26h1v1h-1zM64 28h1v1h-1zM64 29h1v1h-1zM64 30h1v1h-1zM64 31h1v1h-1zM64 32h1v1h-1zM64 33h1v1h-1zM65 20h1v1h-1zM65 21h1v1h-1zM65 22h1v1h-1zM65 23h1v1h-1zM65 25h1v1h-1zM65 26h1v1h-1zM65 28h1v1h-1zM65 30h1v1h-1zM65 31h1v1h-1zM65 32h1v1h-1zM65 33h1v1h-1zM65 77h1v1h-1zM65 78h1v1h-1zM65 90h1v1h-1zM66 24h1v1h-1zM66 28h1v1h-1zM66 33h1v1h-1zM66 65h1v1h-1zM66 82h1v1h-1zM67 21h1v1h-1zM67 22h1v1h-1zM67 26h1v1h-1zM67 27h1v1h-1zM67 28h1v1h-1zM67 31h1v1h-1zM67 32h1v1h-1zM67 34h1v1h-1zM67 56h1v1h-1zM67 76h1v1h-1zM67 81h1v1h-1zM67 82h1v1h-1zM68 21h1v1h-1zM68 23h1v1h-1zM68 24h1v1h-1zM68 25h1v1h-1zM68 27h1v1h-1zM68 28h1v1h-1zM68 29h1v1h-1zM68 32h1v1h-1zM68 33h1v1h-1zM68 34h1v1h-1zM68 71h1v1h-1zM68 80h1v1h-1zM69 21h1v1h-1zM69 23h1v1h-1zM69 24h1v1h-1zM69 26h1v1h-1zM69 27h1v1h-1zM69 28h1v1h-1zM69 31h1v1h-1zM69 32h1v1h-1zM69 34h1v1h-1zM69 35h1v1h-1zM69 65h1v1h-1zM69 75h1v1h-1zM69 78h1v1h-1zM69 81h1v1h-1zM70 20h1v1h-1zM70 21h1v1h-1zM70 22h1v1h-1zM70 23h1v1h-1zM70 24h1v1h-1zM70 25h1v1h-1zM70 26h1v1h-1zM70 27h1v1h-1zM70 28h1v1h-1zM70 31h1v1h-1zM70 33h1v1h-1zM70 37h1v1h-1zM70 61h1v1h-1zM70 66h1v1h-1zM70 75h1v1h-1zM70 79h1v1h-1zM71 20h1v1h-1zM71 22h1v1h-1zM71 24h1v1h-1zM71 27h1v1h-1zM71 28h1v1h-1zM71 30h1v1h-1zM71 32h1v1h-1zM71 34h1v1h-1zM71 37h1v1h-1zM71 66h1v1h-1zM71 67h1v1h-1zM71 71h1v1h-1zM71 72h1v1h-1zM71 78h1v1h-1zM71 85h1v1h-1zM72 20h1v1h-1zM72 28h1v1h-1zM72 29h1v1h-1zM72 31h1v1h-1zM72 33h1v1h-1zM72 34h1v1h-1zM72 35h1v1h-1zM72 40h1v1h-1zM72 63h1v1h-1zM72 70h1v1h-1zM72 72h1v1h-1zM72 78h1v1h-1zM72 80h1v1h-1zM72 88h1v1h-1zM73 20h1v1h-1zM73 21h1v1h-1zM73 22h1v1h-1zM73 23h1v1h-1zM73 24h1v1h-1zM73 25h1v1h-1zM73 26h1v1h-1zM73 28h1v1h-1zM73 29h1v1h-1zM73 30h1v1h-1zM73 33h1v1h-1zM73 36h1v1h-1zM73 53h1v1h-1zM73 77h1v1h-1zM73 78h1v1h-1zM73 85h1v1h-1zM73 87h1v1h-1zM73 88h1v1h-1zM74 20h1v1h-1zM74 21h1v1h-1zM74 24h1v1h-1zM74 25h1v1h-1zM74 26h1v1h-1zM74 27h1v1h-1zM74 28h1v1h-1zM74 29h1v1h-1zM74 30h1v1h-1zM74 31h1v1h-1zM74 34h1v1h-1zM74 54h1v1h-1zM74 55h1v1h-1zM74 76h1v1h-1zM74 77h1v1h-1zM74 78h1v1h-1zM74 79h1v1h-1zM74 80h1v1h-1zM74 88h1v1h-1zM75 20h1v1h-1zM75 21h1v1h-1zM75 24h1v1h-1zM75 25h1v1h-1zM75 26h1v1h-1zM75 27h1v1h-1zM75 28h1v1h-1zM75 31h1v1h-1zM75 32h1v1h-1zM75 33h1v1h-1zM75 36h1v1h-1zM75 44h1v1h-1zM75 80h1v1h-1zM75 81h1v1h-1zM75 82h1v1h-1zM76 23h1v1h-1zM76 24h1v1h-1zM76 27h1v1h-1zM76 28h1v1h-1zM76 29h1v1h-1zM76 30h1v1h-1zM76 31h1v1h-1zM76 32h1v1h-1zM76 33h1v1h-1zM76 34h1v1h-1zM76 35h1v1h-1zM76 36h1v1h-1zM76 37h1v1h-1zM76 44h1v1h-1zM76 48h1v1h-1zM76 53h1v1h-1zM76 76h1v1h-1zM76 81h1v1h-1zM76 85h1v1h-1zM76 88h1v1h-1zM77 20h1v1h-1zM77 21h1v1h-1zM77 22h1v1h-1zM77 23h1v1h-1zM77 25h1v1h-1zM77 26h1v1h-1zM77 27h1v1h-1zM77 28h1v1h-1zM77 29h1v1h-1zM77 30h1v1h-1zM77 31h1v1h-1zM77 32h1v1h-1zM77 35h1v1h-1zM77 36h1v1h-1zM77 37h1v1h-1zM77 57h1v1h-1zM77 62h1v1h-1zM77 63h1v1h-1zM77 66h1v1h-1zM77 75h1v1h-1zM78 21h1v1h-1zM78 22h1v1h-1zM78 23h1v1h-1zM78 24h1v1h-1zM78 25h1v1h-1zM78 26h1v1h-1zM78 27h1v1h-1zM78 28h1v1h-1zM78 29h1v1h-1zM78 30h1v1h-1zM78 31h1v1h-1zM78 32h1v1h-1zM78 33h1v1h-1zM78 34h1v1h-1zM78 35h1v1h-1zM78 36h1v1h-1zM78 37h1v1h-1zM78 39h1v1h-1zM78 40h1v1h-1zM78 48h1v1h-1zM78 51h1v1h-1zM78 75h1v1h-1zM78 77h1v1h-1zM79 23h1v1h-1zM79 24h1v1h-1zM79 25h1v1h-1zM79 26h1v1h-1zM79 27h1v1h-1zM79 28h1v1h-1zM79 30h1v1h-1zM79 31h1v1h-1zM79 32h1v1h-1zM79 33h1v1h-1zM79 34h1v1h-1zM79 35h1v1h-1zM79 37h1v1h-1zM79 40h1v1h-1zM79 41h1v1h-1zM79 43h1v1h-1zM79 49h1v1h-1zM79 68h1v1h-1zM80 20h1v1h-1zM80 23h1v1h-1zM80 24h1v1h-1zM80 25h1v1h-1zM80 26h1v1h-1zM80 27h1v1h-1zM80 30h1v1h-1zM80 31h1v1h-1zM80 33h1v1h-1zM80 34h1v1h-1zM80 35h1v1h-1zM80 36h1v1h-1zM80 38h1v1h-1zM80 39h1v1h-1zM80 43h1v1h-1zM80 46h1v1h-1zM80 51h1v1h-1zM80 55h1v1h-1zM80 56h1v1h-1zM80 70h1v1h-1zM80 73h1v1h-1zM80 77h1v1h-1zM80 81h1v1h-1zM80 82h1v1h-1zM81 20h1v1h-1zM81 23h1v1h-1zM81 24h1v1h-1zM81 25h1v1h-1zM81 26h1v1h-1zM81 27h1v1h-1zM81 28h1v1h-1zM81 29h1v1h-1zM81 30h1v1h-1zM81 31h1v1h-1zM81 32h1v1h-1zM81 33h1v1h-1zM81 34h1v1h-1zM81 35h1v1h-1zM81 36h1v1h-1zM81 37h1v1h-1zM81 38h1v1h-1zM81 39h1v1h-1zM81 40h1v1h-1zM81 41h1v1h-1zM81 61h1v1h-1zM81 66h1v1h-1zM81 69h1v1h-1zM81 70h1v1h-1zM81 75h1v1h-1zM81 88h1v1h-1zM81 95h1v1h-1zM82 20h1v1h-1zM82 24h1v1h-1zM82 27h1v1h-1zM82 28h1v1h-1zM82 32h1v1h-1zM82 33h1v1h-1zM82 34h1v1h-1zM82 35h1v1h-1zM82 36h1v1h-1zM82 37h1v1h-1zM82 38h1v1h-1zM82 40h1v1h-1zM82 42h1v1h-1zM82 43h1v1h-1zM82 44h1v1h-1zM82 45h1v1h-1zM82 63h1v1h-1zM82 81h1v1h-1zM82 88h1v1h-1zM83 22h1v1h-1zM83 23h1v1h-1zM83 24h1v1h-1zM83 25h1v1h-1zM83 26h1v1h-1zM83 27h1v1h-1zM83 28h1v1h-1zM83 29h1v1h-1zM83 31h1v1h-1zM83 32h1v1h-1zM83 33h1v1h-1zM83 34h1v1h-1zM83 35h1v1h-1zM83 36h1v1h-1zM83 37h1v1h-1zM83 38h1v1h-1zM83 39h1v1h-1zM83 40h1v1h-1zM83 41h1v1h-1zM83 42h1v1h-1zM83 43h1v1h-1zM83 44h1v1h-1zM83 46h1v1h-1zM83 54h1v1h-1zM83 73h1v1h-1zM83 90h1v1h-1zM84 20h1v1h-1zM84 21h1v1h-1zM84 23h1v1h-1zM84 24h1v1h-1zM84 25h1v1h-1zM84 26h1v1h-1zM84 27h1v1h-1zM84 28h1v1h-1zM84 30h1v1h-1zM84 32h1v1h-1zM84 33h1v1h-1zM84 34h1v1h-1zM84 35h1v1h-1zM84 37h1v1h-1zM84 38h1v1h-1zM84 39h1v1h-1zM84 40h1v1h-1zM84 41h1v1h-1zM84 42h1v1h-1zM84 44h1v1h-1zM84 45h1v1h-1zM84 46h1v1h-1zM84 48h1v1h-1zM84 50h1v1h-1zM84 51h1v1h-1zM84 58h1v1h-1zM84 85h1v1h-1zM84 92h1v1h-1zM85 20h1v1h-1zM85 21h1v1h-1zM85 23h1v1h-1zM85 24h1v1h-1zM85 27h1v1h-1zM85 28h1v1h-1zM85 29h1v1h-1zM85 30h1v1h-1zM85 32h1v1h-1zM85 33h1v1h-1zM85 34h1v1h-1zM85 35h1v1h-1zM85 36h1v1h-1zM85 38h1v1h-1zM85 39h1v1h-1zM85 40h1v1h-1zM85 41h1v1h-1zM85 42h1v1h-1zM85 44h1v1h-1zM85 45h1v1h-1zM85 47h1v1h-1zM85 52h1v1h-1zM85 64h1v1h-1zM85 74h1v1h-1zM86 21h1v1h-1zM86 22h1v1h-1zM86 23h1v1h-1zM86 24h1v1h-1zM86 25h1v1h-1zM86 26h1v1h-1zM86 27h1v1h-1zM86 28h1v1h-1zM86 29h1v1h-1zM86 30h1v1h-1zM86 31h1v1h-1zM86 32h1v1h-1zM86 33h1v1h-1zM86 34h1v1h-1zM86 35h1v1h-1zM86 36h1v1h-1zM86 37h1v1h-1zM86 38h1v1h-1zM86 39h1v1h-1zM86 41h1v1h-1zM86 42h1v1h-1zM86 43h1v1h-1zM86 44h1v1h-1zM86 46h1v1h-1zM86 47h1v1h-1zM86 50h1v1h-1zM86 62h1v1h-1zM86 68h1v1h-1zM86 69h1v1h-1zM86 73h1v1h-1zM86 92h1v1h-1zM86 94h1v1h-1zM87 20h1v1h-1zM87 21h1v1h-1zM87 22h1v1h-1zM87 25h1v1h-1zM87 26h1v1h-1zM87 27h1v1h-1zM87 28h1v1h-1zM87 30h1v1h-1zM87 31h1v1h-1zM87 32h1v1h-1zM87 33h1v1h-1zM87 34h1v1h-1zM87 35h1v1h-1zM87 36h1v1h-1zM87 37h1v1h-1zM87 38h1v1h-1zM87 39h1v1h-1zM87 41h1v1h-1zM87 42h1v1h-1zM87 43h1v1h-1zM87 44h1v1h-1zM87 45h1v1h-1zM87 46h1v1h-1zM87 47h1v1h-1zM87 48h1v1h-1zM87 49h1v1h-1zM87 50h1v1h-1zM87 51h1v1h-1zM87 61h1v1h-1zM87 89h1v1h-1zM88 23h1v1h-1zM88 24h1v1h-1zM88 25h1v1h-1zM88 27h1v1h-1zM88 30h1v1h-1zM88 31h1v1h-1zM88 32h1v1h-1zM88 33h1v1h-1zM88 34h1v1h-1zM88 35h1v1h-1zM88 38h1v1h-1zM88 39h1v1h-1zM88 40h1v1h-1zM88 42h1v1h-1zM88 43h1v1h-1zM88 44h1v1h-1zM88 46h1v1h-1zM88 48h1v1h-1zM88 49h1v1h-1zM88 50h1v1h-1zM88 51h1v1h-1zM88 55h1v1h-1zM88 61h1v1h-1zM88 62h1v1h-1zM88 66h1v1h-1zM88 70h1v1h-1zM88 80h1v1h-1zM88 81h1v1h-1zM88 84h1v1h-1zM88 91h1v1h-1zM88 93h1v1h-1zM89 22h1v1h-1zM89 23h1v1h-1zM89 24h1v1h-1zM89 25h1v1h-1zM89 26h1v1h-1zM89 27h1v1h-1zM89 28h1v1h-1zM89 29h1v1h-1zM89 30h1v1h-1zM89 31h1v1h-1zM89 32h1v1h-1zM89 33h1v1h-1zM89 34h1v1h-1zM89 35h1v1h-1zM89 37h1v1h-1zM89 38h1v1h-1zM89 39h1v1h-1zM89 40h1v1h-1zM89 41h1v1h-1zM89 42h1v1h-1zM89 43h1v1h-1zM89 44h1v1h-1zM89 45h1v1h-1zM89 47h1v1h-1zM89 48h1v1h-1zM89 49h1v1h-1zM89 52h1v1h-1zM89 54h1v1h-1zM89 55h1v1h-1zM89 56h1v1h-1zM89 59h1v1h-1zM89 60h1v1h-1zM89 65h1v1h-1zM89 70h1v1h-1zM89 76h1v1h-1zM89 88h1v1h-1zM89 94h1v1h-1zM89 97h1v1h-1zM89 98h1v1h-1zM90 22h1v1h-1zM90 23h1v1h-1zM90 24h1v1h-1zM90 25h1v1h-1zM90 26h1v1h-1zM90 27h1v1h-1zM90 28h1v1h-1zM90 29h1v1h-1zM90 30h1v1h-1zM90 31h1v1h-1zM90 32h1v1h-1zM90 33h1v1h-1zM90 34h1v1h-1zM90 35h1v1h-1zM90 36h1v1h-1zM90 37h1v1h-1zM90 39h1v1h-1zM90 41h1v1h-1zM90 43h1v1h-1zM90 44h1v1h-1zM90 45h1v1h-1zM90 46h1v1h-1zM90 47h1v1h-1zM90 50h1v1h-1zM90 51h1v1h-1zM90 64h1v1h-1zM90 79h1v1h-1zM90 84h1v1h-1zM90 85h1v1h-1zM90 92h1v1h-1zM91 20h1v1h-1zM91 21h1v1h-1zM91 22h1v1h-1zM91 23h1v1h-1zM91 24h1v1h-1zM91 25h1v1h-1zM91 26h1v1h-1zM91 27h1v1h-1zM91 28h1v1h-1zM91 29h1v1h-1zM91 30h1v1h-1zM91 31h1v1h-1zM91 32h1v1h-1zM91 33h1v1h-1zM91 35h1v1h-1zM91 36h1v1h-1zM91 37h1v1h-1zM91 38h1v1h-1zM91 39h1v1h-1zM91 40h1v1h-1zM91 41h1v1h-1zM91 43h1v1h-1zM91 44h1v1h-1zM91 45h1v1h-1zM91 46h1v1h-1zM91 47h1v1h-1zM91 48h1v1h-1zM91 49h1v1h-1zM91 50h1v1h-1zM91 51h1v1h-1zM91 52h1v1h-1zM91 54h1v1h-1zM91 55h1v1h-1zM91 60h1v1h-1zM91 61h1v1h-1zM91 63h1v1h-1zM91 66h1v1h-1zM91 76h1v1h-1zM91 78h1v1h-1zM91 82h1v1h-1zM91 91h1v1h-1zM91 93h1v1h-1zM91 94h1v1h-1zM91 97h1v1h-1zM91 98h1v1h-1zM91 99h1v1h-1zM92 23h1v1h-1zM92 24h1v1h-1zM92 25h1v1h-1zM92 26h1v1h-1zM92 27h1v1h-1zM92 28h1v1h-1zM92 29h1v1h-1zM92 30h1v1h-1zM92 31h1v1h-1zM92 32h1v1h-1zM92 33h1v1h-1zM92 35h1v1h-1zM92 36h1v1h-1zM92 37h1v1h-1zM92 38h1v1h-1zM92 39h1v1h-1zM92 40h1v1h-1zM92 41h1v1h-1zM92 42h1v1h-1zM92 45h1v1h-1zM92 46h1v1h-1zM92 47h1v1h-1zM92 48h1v1h-1zM92 49h1v1h-1zM92 50h1v1h-1zM92 52h1v1h-1zM92 53h1v1h-1zM92 54h1v1h-1zM92 55h1v1h-1zM92 60h1v1h-1zM92 61h1v1h-1zM92 63h1v1h-1zM92 65h1v1h-1zM92 68h1v1h-1zM92 79h1v1h-1zM92 80h1v1h-1zM92 84h1v1h-1zM92 85h1v1h-1zM92 86h1v1h-1zM92 88h1v1h-1zM92 89h1v1h-1zM92 92h1v1h-1zM92 95h1v1h-1zM92 99h1v1h-1zM92 103h1v1h-1zM93 20h1v1h-1zM93 21h1v1h-1zM93 23h1v1h-1zM93 25h1v1h-1zM93 26h1v1h-1zM93 27h1v1h-1zM93 29h1v1h-1zM93 30h1v1h-1zM93 31h1v1h-1zM93 33h1v1h-1zM93 34h1v1h-1zM93 36h1v1h-1zM93 37h1v1h-1zM93 38h1v1h-1zM93 39h1v1h-1zM93 40h1v1h-1zM93 41h1v1h-1zM93 42h1v1h-1zM93 43h1v1h-1zM93 44h1v1h-1zM93 45h1v1h-1zM93 46h1v1h-1zM93 47h1v1h-1zM93 48h1v1h-1zM93 49h1v1h-1zM93 50h1v1h-1zM93 51h1v1h-1zM93 52h1v1h-1zM93 53h1v1h-1zM93 59h1v1h-1zM93 63h1v1h-1zM93 68h1v1h-1zM93 73h1v1h-1zM93 75h1v1h-1zM93 83h1v1h-1zM93 85h1v1h-1zM93 91h1v1h-1zM94 20h1v1h-1zM94 21h1v1h-1zM94 23h1v1h-1zM94 25h1v1h-1zM94 26h1v1h-1zM94 27h1v1h-1zM94 28h1v1h-1zM94 29h1v1h-1zM94 30h1v1h-1zM94 31h1v1h-1zM94 33h1v1h-1zM94 34h1v1h-1zM94 35h1v1h-1zM94 37h1v1h-1zM94 38h1v1h-1zM94 39h1v1h-1zM94 40h1v1h-1zM94 41h1v1h-1zM94 42h1v1h-1zM94 43h1v1h-1zM94 44h1v1h-1zM94 45h1v1h-1zM94 46h1v1h-1zM94 47h1v1h-1zM94 48h1v1h-1zM94 49h1v1h-1zM94 50h1v1h-1zM94 51h1v1h-1zM94 52h1v1h-1zM94 62h1v1h-1zM94 64h1v1h-1zM94 68h1v1h-1zM94 75h1v1h-1zM94 76h1v1h-1zM94 78h1v1h-1zM94 79h1v1h-1zM94 82h1v1h-1zM94 84h1v1h-1zM94 90h1v1h-1zM94 91h1v1h-1zM94 92h1v1h-1zM94 96h1v1h-1zM94 97h1v1h-1zM94 100h1v1h-1zM94 101h1v1h-1zM94 102h1v1h-1zM95 20h1v1h-1zM95 23h1v1h-1zM95 24h1v1h-1zM95 25h1v1h-1zM95 26h1v1h-1zM95 28h1v1h-1zM95 29h1v1h-1zM95 30h1v1h-1zM95 31h1v1h-1zM95 32h1v1h-1zM95 33h1v1h-1zM95 34h1v1h-1zM95 35h1v1h-1zM95 36h1v1h-1zM95 37h1v1h-1zM95 38h1v1h-1zM95 39h1v1h-1zM95 40h1v1h-1zM95 41h1v1h-1zM95 42h1v1h-1zM95 43h1v1h-1zM95 44h1v1h-1zM95 45h1v1h-1zM95 46h1v1h-1zM95 47h1v1h-1zM95 48h1v1h-1zM95 49h1v1h-1zM95 50h1v1h-1zM95 51h1v1h-1zM95 58h1v1h-1zM95 59h1v1h-1zM95 62h1v1h-1zM95 65h1v1h-1zM95 71h1v1h-1zM95 74h1v1h-1zM95 77h1v1h-1zM95 79h1v1h-1zM95 83h1v1h-1zM95 86h1v1h-1zM95 89h1v1h-1zM95 91h1v1h-1zM95 92h1v1h-1zM95 93h1v1h-1zM95 95h1v1h-1zM95 97h1v1h-1zM95 98h1v1h-1zM95 100h1v1h-1zM95 101h1v1h-1zM95 105h1v1h-1zM95 108h1v1h-1zM96 20h1v1h-1zM96 24h1v1h-1zM96 25h1v1h-1zM96 26h1v1h-1zM96 27h1v1h-1zM96 28h1v1h-1zM96 29h1v1h-1zM96 30h1v1h-1zM96 31h1v1h-1zM96 32h1v1h-1zM96 33h1v1h-1zM96 35h1v1h-1zM96 36h1v1h-1zM96 37h1v1h-1zM96 38h1v1h-1zM96 40h1v1h-1zM96 41h1v1h-1zM96 43h1v1h-1zM96 44h1v1h-1zM96 45h1v1h-1zM96 49h1v1h-1zM96 50h1v1h-1zM96 52h1v1h-1zM96 53h1v1h-1zM96 54h1v1h-1zM96 55h1v1h-1zM96 56h1v1h-1zM96 59h1v1h-1zM96 60h1v1h-1zM96 61h1v1h-1zM96 65h1v1h-1zM96 68h1v1h-1zM96 70h1v1h-1zM96 71h1v1h-1zM96 75h1v1h-1zM96 77h1v1h-1zM96 81h1v1h-1zM96 85h1v1h-1zM96 88h1v1h-1zM96 90h1v1h-1zM96 92h1v1h-1zM96 95h1v1h-1zM96 96h1v1h-1zM96 98h1v1h-1zM96 108h1v1h-1zM97 20h1v1h-1zM97 22h1v1h-1zM97 23h1v1h-1zM97 24h1v1h-1zM97 25h1v1h-1zM97 26h1v1h-1zM97 27h1v1h-1zM97 29h1v1h-1zM97 31h1v1h-1zM97 32h1v1h-1zM97 34h1v1h-1zM97 35h1v1h-1zM97 36h1v1h-1zM97 37h1v1h-1zM97 39h1v1h-1zM97 40h1v1h-1zM97 41h1v1h-1zM97 42h1v1h-1zM97 44h1v1h-1zM97 45h1v1h-1zM97 46h1v1h-1zM97 47h1v1h-1zM97 48h1v1h-1zM97 49h1v1h-1zM97 50h1v1h-1zM97 52h1v1h-1zM97 53h1v1h-1zM97 55h1v1h-1zM97 57h1v1h-1zM97 65h1v1h-1zM97 69h1v1h-1zM97 70h1v1h-1zM97 72h1v1h-1zM97 74h1v1h-1zM97 76h1v1h-1zM97 77h1v1h-1zM97 79h1v1h-1zM97 80h1v1h-1zM97 84h1v1h-1zM97 88h1v1h-1zM97 90h1v1h-1zM97 91h1v1h-1zM97 92h1v1h-1zM97 93h1v1h-1zM97 97h1v1h-1zM97 99h1v1h-1zM97 108h1v1h-1zM98 20h1v1h-1zM98 23h1v1h-1zM98 25h1v1h-1zM98 27h1v1h-1zM98 29h1v1h-1zM98 33h1v1h-1zM98 34h1v1h-1zM98 35h1v1h-1zM98 36h1v1h-1zM98 37h1v1h-1zM98 38h1v1h-1zM98 39h1v1h-1zM98 40h1v1h-1zM98 41h1v1h-1zM98 42h1v1h-1zM98 43h1v1h-1zM98 44h1v1h-1zM98 45h1v1h-1zM98 47h1v1h-1zM98 49h1v1h-1zM98 50h1v1h-1zM98 60h1v1h-1zM98 74h1v1h-1zM98 78h1v1h-1zM98 83h1v1h-1zM98 85h1v1h-1zM98 87h1v1h-1zM98 88h1v1h-1zM98 89h1v1h-1zM98 95h1v1h-1zM98 96h1v1h-1zM98 100h1v1h-1zM98 104h1v1h-1zM98 106h1v1h-1zM99 21h1v1h-1zM99 23h1v1h-1zM99 24h1v1h-1zM99 25h1v1h-1zM99 26h1v1h-1zM99 27h1v1h-1zM99 28h1v1h-1zM99 29h1v1h-1zM99 31h1v1h-1zM99 33h1v1h-1zM99 34h1v1h-1zM99 35h1v1h-1zM99 36h1v1h-1zM99 37h1v1h-1zM99 38h1v1h-1zM99 39h1v1h-1zM99 40h1v1h-1zM99 42h1v1h-1zM99 43h1v1h-1zM99 45h1v1h-1zM99 48h1v1h-1zM99 49h1v1h-1zM99 50h1v1h-1zM99 54h1v1h-1zM99 62h1v1h-1zM99 65h1v1h-1zM99 68h1v1h-1zM99 72h1v1h-1zM99 74h1v1h-1zM99 84h1v1h-1zM99 85h1v1h-1zM99 87h1v1h-1zM99 88h1v1h-1zM99 90h1v1h-1zM99 91h1v1h-1zM99 92h1v1h-1zM99 93h1v1h-1zM99 95h1v1h-1zM99 96h1v1h-1zM99 99h1v1h-1zM99 100h1v1h-1zM99 111h1v1h-1zM100 21h1v1h-1zM100 22h1v1h-1zM100 26h1v1h-1zM100 28h1v1h-1zM100 31h1v1h-1zM100 32h1v1h-1zM100 33h1v1h-1zM100 34h1v1h-1zM100 36h1v1h-1zM100 37h1v1h-1zM100 38h1v1h-1zM100 39h1v1h-1zM100 40h1v1h-1zM100 41h1v1h-1zM100 42h1v1h-1zM100 43h1v1h-1zM100 44h1v1h-1zM100 46h1v1h-1zM100 48h1v1h-1zM100 49h1v1h-1zM100 50h1v1h-1zM100 56h1v1h-1zM100 60h1v1h-1zM100 62h1v1h-1zM100 65h1v1h-1zM100 77h1v1h-1zM100 78h1v1h-1zM100 82h1v1h-1zM100 85h1v1h-1zM100 89h1v1h-1zM100 93h1v1h-1zM100 94h1v1h-1zM100 97h1v1h-1zM100 99h1v1h-1zM100 102h1v1h-1zM100 104h1v1h-1zM101 26h1v1h-1zM101 27h1v1h-1zM101 30h1v1h-1zM101 33h1v1h-1zM101 36h1v1h-1zM101 37h1v1h-1zM101 41h1v1h-1zM101 42h1v1h-1zM101 43h1v1h-1zM101 45h1v1h-1zM101 46h1v1h-1zM101 49h1v1h-1zM101 50h1v1h-1zM101 52h1v1h-1zM101 59h1v1h-1zM101 61h1v1h-1zM101 62h1v1h-1zM101 78h1v1h-1zM101 79h1v1h-1zM101 80h1v1h-1zM101 82h1v1h-1zM101 91h1v1h-1zM101 92h1v1h-1zM101 94h1v1h-1zM101 95h1v1h-1zM101 97h1v1h-1zM101 98h1v1h-1zM101 99h1v1h-1zM101 102h1v1h-1zM101 104h1v1h-1zM102 24h1v1h-1zM102 26h1v1h-1zM102 27h1v1h-1zM102 28h1v1h-1zM102 30h1v1h-1zM102 36h1v1h-1zM102 38h1v1h-1zM102 43h1v1h-1zM102 45h1v1h-1zM102 47h1v1h-1zM102 49h1v1h-1zM102 60h1v1h-1zM102 63h1v1h-1zM102 64h1v1h-1zM102 67h1v1h-1zM102 70h1v1h-1zM102 72h1v1h-1zM102 73h1v1h-1zM102 76h1v1h-1zM102 80h1v1h-1zM102 88h1v1h-1zM102 92h1v1h-1zM102 93h1v1h-1zM102 97h1v1h-1zM102 98h1v1h-1zM102 104h1v1h-1zM103 23h1v1h-1zM103 26h1v1h-1zM103 28h1v1h-1zM103 34h1v1h-1zM103 39h1v1h-1zM103 48h1v1h-1zM103 50h1v1h-1zM103 57h1v1h-1zM103 58h1v1h-1zM103 59h1v1h-1zM103 64h1v1h-1zM103 65h1v1h-1zM103 67h1v1h-1zM103 74h1v1h-1zM103 75h1v1h-1zM103 78h1v1h-1zM103 80h1v1h-1zM103 82h1v1h-1zM103 83h1v1h-1zM103 84h1v1h-1zM103 88h1v1h-1zM103 89h1v1h-1zM103 97h1v1h-1zM104 29h1v1h-1zM104 37h1v1h-1zM104 49h1v1h-1zM104 51h1v1h-1zM104 56h1v1h-1zM104 59h1v1h-1zM104 62h1v1h-1zM104 64h1v1h-1zM104 71h1v1h-1zM104 73h1v1h-1zM104 74h1v1h-1zM104 75h1v1h-1zM104 79h1v1h-1zM104 80h1v1h-1zM104 83h1v1h-1zM104 84h1v1h-1zM104 87h1v1h-1zM104 88h1v1h-1zM104 89h1v1h-1zM104 90h1v1h-1zM104 91h1v1h-1zM104 92h1v1h-1zM104 93h1v1h-1zM104 95h1v1h-1zM104 96h1v1h-1zM104 98h1v1h-1zM105 33h1v1h-1zM105 46h1v1h-1zM105 59h1v1h-1zM105 62h1v1h-1zM105 68h1v1h-1zM105 74h1v1h-1zM105 75h1v1h-1zM105 77h1v1h-1zM105 79h1v1h-1zM105 80h1v1h-1zM105 83h1v1h-1zM105 85h1v1h-1zM105 86h1v1h-1zM105 90h1v1h-1zM105 91h1v1h-1zM105 92h1v1h-1zM105 93h1v1h-1zM105 94h1v1h-1zM105 95h1v1h-1zM105 96h1v1h-1zM106 40h1v1h-1zM106 57h1v1h-1zM106 58h1v1h-1zM106 60h1v1h-1zM106 61h1v1h-1zM106 64h1v1h-1zM106 71h1v1h-1zM106 72h1v1h-1zM106 73h1v1h-1zM106 75h1v1h-1zM106 78h1v1h-1zM106 80h1v1h-1zM106 81h1v1h-1zM106 86h1v1h-1zM106 87h1v1h-1zM106 89h1v1h-1zM106 90h1v1h-1zM106 91h1v1h-1zM106 92h1v1h-1zM106 93h1v1h-1zM106 94h1v1h-1zM106 95h1v1h-1zM106 96h1v1h-1zM106 97h1v1h-1zM106 99h1v1h-1zM107 53h1v1h-1zM107 54h1v1h-1zM107 55h1v1h-1zM107 57h1v1h-1zM107 59h1v1h-1zM107 63h1v1h-1zM107 64h1v1h-1zM107 66h1v1h-1zM107 67h1v1h-1zM107 70h1v1h-1zM107 72h1v1h-1zM107 76h1v1h-1zM107 82h1v1h-1zM107 83h1v1h-1zM107 84h1v1h-1zM107 86h1v1h-1zM107 87h1v1h-1zM107 88h1v1h-1zM107 89h1v1h-1zM107 91h1v1h-1zM107 92h1v1h-1zM107 95h1v1h-1zM107 96h1v1h-1zM107 97h1v1h-1zM108 22h1v1h-1zM108 38h1v1h-1zM108 40h1v1h-1zM108 43h1v1h-1zM108 54h1v1h-1zM108 57h1v1h-1zM108 59h1v1h-1zM108 60h1v1h-1zM108 62h1v1h-1zM108 63h1v1h-1zM108 65h1v1h-1zM108 66h1v1h-1zM108 68h1v1h-1zM108 72h1v1h-1zM108 73h1v1h-1zM108 74h1v1h-1zM108 75h1v1h-1zM108 78h1v1h-1zM108 81h1v1h-1zM108 83h1v1h-1zM108 87h1v1h-1zM108 89h1v1h-1zM108 95h1v1h-1zM108 98h1v1h-1zM109 40h1v1h-1zM109 43h1v1h-1zM109 52h1v1h-1zM109 56h1v1h-1zM109 60h1v1h-1zM109 61h1v1h-1zM109 63h1v1h-1zM109 65h1v1h-1zM109 66h1v1h-1zM109 72h1v1h-1zM109 76h1v1h-1zM109 77h1v1h-1zM109 81h1v1h-1zM109 86h1v1h-1zM109 87h1v1h-1zM109 90h1v1h-1zM109 91h1v1h-1zM109 92h1v1h-1zM109 93h1v1h-1zM109 95h1v1h-1zM110 45h1v1h-1zM110 50h1v1h-1zM110 57h1v1h-1zM110 61h1v1h-1zM110 65h1v1h-1zM110 67h1v1h-1zM110 68h1v1h-1zM110 71h1v1h-1zM110 74h1v1h-1zM110 75h1v1h-1zM110 78h1v1h-1zM110 80h1v1h-1zM110 85h1v1h-1zM110 86h1v1h-1zM110 88h1v1h-1zM110 89h1v1h-1zM110 90h1v1h-1zM110 91h1v1h-1zM110 94h1v1h-1zM110 95h1v1h-1zM111 48h1v1h-1zM111 50h1v1h-1zM111 54h1v1h-1zM111 57h1v1h-1zM111 58h1v1h-1zM111 61h1v1h-1zM111 63h1v1h-1zM111 65h1v1h-1zM111 80h1v1h-1zM111 85h1v1h-1zM111 86h1v1h-1zM111 90h1v1h-1zM111 91h1v1h-1zM111 94h1v1h-1zM111 95h1v1h-1zM111 96h1v1h-1zM112 55h1v1h-1zM112 61h1v1h-1zM112 66h1v1h-1zM112 67h1v1h-1zM112 69h1v1h-1zM112 73h1v1h-1zM112 74h1v1h-1zM112 82h1v1h-1zM112 85h1v1h-1zM112 89h1v1h-1zM112 95h1v1h-1zM112 96h1v1h-1zM112 97h1v1h-1zM113 52h1v1h-1zM113 55h1v1h-1zM113 56h1v1h-1zM113 57h1v1h-1zM113 60h1v1h-1zM113 61h1v1h-1zM113 63h1v1h-1zM113 64h1v1h-1zM113 65h1v1h-1zM113 66h1v1h-1zM113 67h1v1h-1zM113 69h1v1h-1zM113 70h1v1h-1zM113 73h1v1h-1zM113 79h1v1h-1zM113 81h1v1h-1zM113 83h1v1h-1zM113 86h1v1h-1zM113 90h1v1h-1zM113 95h1v1h-1zM113 96h1v1h-1zM114 55h1v1h-1zM114 58h1v1h-1zM114 59h1v1h-1zM114 62h1v1h-1zM114 63h1v1h-1zM114 64h1v1h-1zM114 65h1v1h-1zM114 67h1v1h-1zM114 68h1v1h-1zM114 69h1v1h-1zM114 73h1v1h-1zM114 74h1v1h-1zM114 85h1v1h-1zM114 92h1v1h-1zM115 39h1v1h-1zM115 56h1v1h-1zM115 57h1v1h-1zM115 58h1v1h-1zM115 59h1v1h-1zM115 60h1v1h-1zM115 63h1v1h-1zM115 64h1v1h-1zM115 65h1v1h-1zM115 68h1v1h-1zM115 69h1v1h-1zM115 71h1v1h-1zM115 72h1v1h-1zM115 73h1v1h-1zM115 80h1v1h-1zM115 82h1v1h-1zM115 83h1v1h-1zM115 87h1v1h-1zM115 91h1v1h-1zM115 95h1v1h-1zM115 96h1v1h-1zM116 37h1v1h-1zM116 40h1v1h-1zM116 43h1v1h-1zM116 55h1v1h-1zM116 56h1v1h-1zM116 59h1v1h-1zM116 63h1v1h-1zM116 64h1v1h-1zM116 65h1v1h-1zM116 66h1v1h-1zM116 68h1v1h-1zM116 69h1v1h-1zM116 70h1v1h-1zM116 72h1v1h-1zM116 79h1v1h-1zM116 90h1v1h-1zM116 93h1v1h-1zM117 34h1v1h-1zM117 66h1v1h-1zM117 67h1v1h-1zM117 68h1v1h-1zM117 71h1v1h-1zM117 72h1v1h-1zM117 73h1v1h-1zM117 75h1v1h-1zM117 78h1v1h-1zM117 88h1v1h-1zM117 92h1v1h-1zM117 95h1v1h-1zM118 33h1v1h-1zM118 38h1v1h-1zM118 49h1v1h-1zM118 56h1v1h-1zM118 63h1v1h-1zM118 64h1v1h-1zM118 65h1v1h-1zM118 68h1v1h-1zM118 74h1v1h-1zM118 81h1v1h-1zM118 86h1v1h-1zM118 92h1v1h-1zM118 94h1v1h-1zM118 97h1v1h-1zM119 38h1v1h-1zM119 39h1v1h-1zM119 40h1v1h-1zM119 41h1v1h-1zM119 42h1v1h-1zM119 55h1v1h-1zM119 64h1v1h-1zM119 65h1v1h-1zM119 66h1v1h-1zM119 72h1v1h-1zM119 87h1v1h-1zM119 91h1v1h-1zM119 95h1v1h-1zM119 97h1v1h-1zM120 37h1v1h-1zM120 40h1v1h-1zM120 42h1v1h-1zM120 50h1v1h-1zM120 56h1v1h-1zM120 64h1v1h-1zM120 67h1v1h-1zM120 95h1v1h-1zM120 96h1v1h-1zM121 38h1v1h-1zM121 41h1v1h-1zM121 42h1v1h-1zM121 43h1v1h-1zM121 46h1v1h-1zM121 52h1v1h-1zM121 68h1v1h-1zM121 74h1v1h-1zM121 79h1v1h-1zM121 95h1v1h-1zM121 96h1v1h-1zM122 43h1v1h-1zM122 44h1v1h-1zM122 46h1v1h-1zM122 47h1v1h-1zM122 55h1v1h-1zM122 61h1v1h-1zM122 62h1v1h-1zM122 67h1v1h-1zM122 68h1v1h-1zM122 69h1v1h-1zM122 71h1v1h-1zM122 78h1v1h-1zM122 89h1v1h-1zM122 91h1v1h-1zM122 99h1v1h-1zM123 57h1v1h-1zM123 61h1v1h-1zM123 67h1v1h-1zM123 73h1v1h-1zM123 88h1v1h-1zM123 91h1v1h-1zM124 40h1v1h-1zM124 81h1v1h-1zM125 42h1v1h-1zM125 45h1v1h-1zM125 47h1v1h-1zM125 49h1v1h-1zM125 58h1v1h-1zM125 75h1v1h-1zM125 82h1v1h-1zM125 94h1v1h-1zM126 42h1v1h-1zM126 44h1v1h-1zM126 45h1v1h-1zM126 85h1v1h-1zM126 88h1v1h-1zM127 66h1v1h-1zM127 72h1v1h-1zM127 77h1v1h-1zM127 80h1v1h-1zM127 81h1v1h-1zM127 90h1v1h-1zM128 33h1v1h-1zM128 35h1v1h-1zM128 47h1v1h-1zM128 50h1v1h-1zM128 58h1v1h-1zM128 79h1v1h-1zM128 81h1v1h-1zM128 92h1v1h-1zM129 35h1v1h-1zM129 36h1v1h-1zM129 49h1v1h-1zM129 54h1v1h-1zM129 61h1v1h-1zM129 75h1v1h-1zM129 89h1v1h-1zM129 91h1v1h-1zM130 48h1v1h-1zM130 63h1v1h-1zM130 64h1v1h-1zM130 80h1v1h-1zM130 85h1v1h-1zM130 93h1v1h-1zM131 62h1v1h-1zM131 78h1v1h-1zM132 67h1v1h-1zM132 80h1v1h-1zM133 53h1v1h-1zM134 81h1v1h-1zM134 87h1v1h-1zM135 66h1v1h-1zM135 71h1v1h-1zM135 81h1v1h-1zM135 84h1v1h-1zM136 79h1v1h-1zM136 82h1v1h-1zM137 57h1v1h-1zM137 80h1v1h-1zM137 87h1v1h-1zM137 90h1v1h-1zM138 81h1v1h-1zM139 42h1v1h-1zM140 43h1v1h-1zM140 65h1v1h-1zM140 85h1v1h-1zM141 61h1v1h-1zM141 70h1v1h-1zM141 75h1v1h-1zM141 83h1v1h-1zM142 71h1v1h-1zM142 92h1v1h-1zM143 75h1v1h-1zM144 70h1v1h-1zM144 71h1v1h-1zM147 97h1v1h-1zM148 88h1v1h-1zM150 66h1v1h-1zM151 102h1v1h-1zM152 89h1v1h-1zM154 103h1v1h-1z" fill="#6e6ed6"/>
<path d="M50 71h1v1h-1zM51 68h1v1h-1zM52 69h1v1h-1zM53 66h1v1h-1zM53 67h1v1h-1zM53 68h1v1h-1zM53 69h1v1h-1zM53 75h1v1h-1zM54 75h1v1h-1zM55 67h1v1h-1zM55 68h1v1h-1zM55 69h1v1h-1zM56 67h1v1h-1zM56 69h1v1h-1zM56 75h1v1h-1zM58 26h1v1h-1zM58 68h1v1h-1zM59 64h1v1h-1zM59 74h1v1h-1zM60 27h1v1h-1zM60 60h1v1h-1zM60 71h1v1h-1zM60 87h1v1h-1zM61 77h1v1h-1zM62 77h1v1h-1zM62 81h1v1h-1zM62 88h1v1h-1zM63 74h1v1h-1zM65 64h1v1h-1zM65 75h1v1h-1zM65 77h1v1h-1zM65 78h1v1h-1zM65 80h1v1h-1zM65 85h1v1h-1zM65 89h1v1h-1zM66 64h1v1h-1zM66 70h1v1h-1zM66 78h1v1h-1zM67 66h1v1h-1zM67 76h1v1h-1zM67 77h1v1h-1zM67 78h1v1h-1zM68 60h1v1h-1zM68 64h1v1h-1zM68 72h1v1h-1zM68 74h1v1h-1zM68 76h1v1h-1zM68 78h1v1h-1zM68 85h1v1h-1zM69 71h1v1h-1zM69 72h1v1h-1zM69 76h1v1h-1zM69 79h1v1h-1zM69 80h1v1h-1zM69 83h1v1h-1zM70 61h1v1h-1zM70 67h1v1h-1zM70 72h1v1h-1zM70 73h1v1h-1zM70 74h1v1h-1zM70 77h1v1h-1zM70 81h1v1h-1zM71 64h1v1h-1zM71 66h1v1h-1zM71 67h1v1h-1zM71 68h1v1h-1zM71 71h1v1h-1zM71 72h1v1h-1zM71 77h1v1h-1zM71 81h1v1h-1zM71 82h1v1h-1zM71 84h1v1h-1zM72 47h1v1h-1zM72 53h1v1h-1zM72 61h1v1h-1zM72 66h1v1h-1zM72 69h1v1h-1zM72 71h1v1h-1zM72 72h1v1h-1zM72 73h1v1h-1zM72 74h1v1h-1zM72 78h1v1h-1zM72 80h1v1h-1zM72 81h1v1h-1zM72 82h1v1h-1zM72 83h1v1h-1zM72 84h1v1h-1zM72 87h1v1h-1zM72 88h1v1h-1zM73 56h1v1h-1zM73 58h1v1h-1zM73 61h1v1h-1zM73 67h1v1h-1zM73 69h1v1h-1zM73 71h1v1h-1zM73 72h1v1h-1zM73 74h1v1h-1zM73 75h1v1h-1zM73 77h1v1h-1zM73 78h1v1h-1zM73 79h1v1h-1zM73 81h1v1h-1zM73 82h1v1h-1zM73 83h1v1h-1zM73 85h1v1h-1zM73 86h1v1h-1zM73 87h1v1h-1zM73 88h1v1h-1zM73 89h1v1h-1zM74 20h1v1h-1zM74 21h1v1h-1zM74 58h1v1h-1zM74 62h1v1h-1zM74 65h1v1h-1zM74 67h1v1h-1zM74 69h1v1h-1zM74 72h1v1h-1zM74 74h1v1h-1zM74 75h1v1h-1zM74 76h1v1h-1zM74 77h1v1h-1zM74 78h1v1h-1zM74 79h1v1h-1zM74 80h1v1h-1zM74 81h1v1h-1zM74 82h1v1h-1zM74 83h1v1h-1zM74 85h1v1h-1zM75 56h1v1h-1zM75 57h1v1h-1zM75 62h1v1h-1zM75 66h1v1h-1zM75 68h1v1h-1zM75 71h1v1h-1zM75 73h1v1h-1zM75 74h1v1h-1zM75 77h1v1h-1zM75 78h1v1h-1zM75 79h1v1h-1zM75 80h1v1h-1zM75 83h1v1h-1zM75 91h1v1h-1zM76 29h1v1h-1zM76 49h1v1h-1zM76 59h1v1h-1zM76 62h1v1h-1zM76 63h1v1h-1zM76 66h1v1h-1zM76 74h1v1h-1zM76 75h1v1h-1zM76 76h1v1h-1zM76 78h1v1h-1zM76 79h1v1h-1zM76 83h1v1h-1zM76 84h1v1h-1zM76 85h1v1h-1zM76 88h1v1h-1zM77 29h1v1h-1zM77 55h1v1h-1zM77 56h1v1h-1zM77 58h1v1h-1zM77 60h1v1h-1zM77 65h1v1h-1zM77 69h1v1h-1zM77 74h1v1h-1zM77 75h1v1h-1zM77 76h1v1h-1zM77 77h1v1h-1zM77 78h1v1h-1zM77 79h1v1h-1zM77 80h1v1h-1zM77 81h1v1h-1zM77 82h1v1h-1zM77 83h1v1h-1zM77 85h1v1h-1zM77 86h1v1h-1zM78 49h1v1h-1zM78 57h1v1h-1zM78 61h1v1h-1zM78 62h1v1h-1zM78 64h1v1h-1zM78 66h1v1h-1zM78 69h1v1h-1zM78 70h1v1h-1zM78 72h1v1h-1zM78 77h1v1h-1zM78 78h1v1h-1zM78 79h1v1h-1zM78 80h1v1h-1zM78 81h1v1h-1zM78 82h1v1h-1zM79 43h1v1h-1zM79 53h1v1h-1zM79 54h1v1h-1zM79 55h1v1h-1zM79 56h1v1h-1zM79 64h1v1h-1zM79 66h1v1h-1zM79 69h1v1h-1zM79 70h1v1h-1zM79 72h1v1h-1zM79 73h1v1h-1zM79 74h1v1h-1zM79 75h1v1h-1zM79 76h1v1h-1zM79 77h1v1h-1zM79 78h1v1h-1zM79 79h1v1h-1zM79 81h1v1h-1zM79 82h1v1h-1zM79 83h1v1h-1zM79 84h1v1h-1zM79 86h1v1h-1zM79 92h1v1h-1zM79 95h1v1h-1zM80 42h1v1h-1zM80 47h1v1h-1zM80 53h1v1h-1zM80 55h1v1h-1zM80 57h1v1h-1zM80 59h1v1h-1zM80 60h1v1h-1zM80 65h1v1h-1zM80 66h1v1h-1zM80 69h1v1h-1zM80 71h1v1h-1zM80 72h1v1h-1zM80 74h1v1h-1zM80 75h1v1h-1zM80 80h1v1h-1zM80 82h1v1h-1zM80 83h1v1h-1zM80 86h1v1h-1zM80 87h1v1h-1zM80 88h1v1h-1zM81 33h1v1h-1zM81 43h1v1h-1zM81 46h1v1h-1zM81 47h1v1h-1zM81 51h1v1h-1zM81 55h1v1h-1zM81 56h1v1h-1zM81 57h1v1h-1zM81 61h1v1h-1zM81 64h1v1h-1zM81 69h1v1h-1zM81 70h1v1h-1zM81 76h1v1h-1zM81 77h1v1h-1zM81 78h1v1h-1zM81 81h1v1h-1zM81 83h1v1h-1zM81 84h1v1h-1zM81 85h1v1h-1zM81 96h1v1h-1zM82 43h1v1h-1zM82 44h1v1h-1zM82 45h1v1h-1zM82 46h1v1h-1zM82 48h1v1h-1zM82 51h1v1h-1zM82 53h1v1h-1zM82 54h1v1h-1zM82 56h1v1h-1zM82 57h1v1h-1zM82 58h1v1h-1zM82 62h1v1h-1zM82 63h1v1h-1zM82 67h1v1h-1zM82 70h1v1h-1zM82 73h1v1h-1zM82 74h1v1h-1zM82 75h1v1h-1zM82 81h1v1h-1zM82 84h1v1h-1zM82 89h1v1h-1zM82 90h1v1h-1zM82 92h1v1h-1zM82 93h1v1h-1zM82 96h1v1h-1zM83 25h1v1h-1zM83 41h1v1h-1zM83 43h1v1h-1zM83 46h1v1h-1zM83 48h1v1h-1zM83 49h1v1h-1zM83 50h1v1h-1zM83 54h1v1h-1zM83 55h1v1h-1zM83 57h1v1h-1zM83 62h1v1h-1zM83 63h1v1h-1zM83 71h1v1h-1zM83 73h1v1h-1zM83 75h1v1h-1zM83 80h1v1h-1zM83 81h1v1h-1zM83 83h1v1h-1zM83 85h1v1h-1zM83 89h1v1h-1zM83 92h1v1h-1zM84 42h1v1h-1zM84 45h1v1h-1zM84 46h1v1h-1zM84 47h1v1h-1zM84 48h1v1h-1zM84 49h1v1h-1zM84 50h1v1h-1zM84 51h1v1h-1zM84 55h1v1h-1zM84 59h1v1h-1zM84 61h1v1h-1zM84 65h1v1h-1zM84 78h1v1h-1zM84 82h1v1h-1zM84 85h1v1h-1zM85 43h1v1h-1zM85 47h1v1h-1zM85 48h1v1h-1zM85 50h1v1h-1zM85 51h1v1h-1zM85 53h1v1h-1zM85 57h1v1h-1zM85 58h1v1h-1zM85 59h1v1h-1zM85 62h1v1h-1zM85 63h1v1h-1zM85 69h1v1h-1zM85 73h1v1h-1zM85 75h1v1h-1zM85 80h1v1h-1zM85 81h1v1h-1zM85 82h1v1h-1zM85 91h1v1h-1zM85 92h1v1h-1zM86 35h1v1h-1zM86 42h1v1h-1zM86 43h1v1h-1zM86 45h1v1h-1zM86 46h1v1h-1zM86 48h1v1h-1zM86 50h1v1h-1zM86 53h1v1h-1zM86 54h1v1h-1zM86 55h1v1h-1zM86 60h1v1h-1zM86 75h1v1h-1zM86 80h1v1h-1zM86 84h1v1h-1zM86 85h1v1h-1zM86 92h1v1h-1zM87 42h1v1h-1zM87 47h1v1h-1zM87 48h1v1h-1zM87 49h1v1h-1zM87 50h1v1h-1zM87 51h1v1h-1zM87 52h1v1h-1zM87 55h1v1h-1zM87 57h1v1h-1zM87 60h1v1h-1zM87 61h1v1h-1zM87 62h1v1h-1zM87 72h1v1h-1zM87 76h1v1h-1zM87 79h1v1h-1zM87 81h1v1h-1zM87 85h1v1h-1zM87 89h1v1h-1zM87 90h1v1h-1zM88 26h1v1h-1zM88 42h1v1h-1zM88 47h1v1h-1zM88 48h1v1h-1zM88 49h1v1h-1zM88 50h1v1h-1zM88 51h1v1h-1zM88 52h1v1h-1zM88 54h1v1h-1zM88 58h1v1h-1zM88 60h1v1h-1zM88 63h1v1h-1zM88 64h1v1h-1zM88 66h1v1h-1zM88 72h1v1h-1zM88 74h1v1h-1zM88 83h1v1h-1zM88 86h1v1h-1zM88 90h1v1h-1zM88 94h1v1h-1zM89 42h1v1h-1zM89 44h1v1h-1zM89 47h1v1h-1zM89 48h1v1h-1zM89 49h1v1h-1zM89 50h1v1h-1zM89 51h1v1h-1zM89 52h1v1h-1zM89 55h1v1h-1zM89 60h1v1h-1zM89 64h1v1h-1zM89 79h1v1h-1zM89 83h1v1h-1zM89 85h1v1h-1zM89 91h1v1h-1zM89 93h1v1h-1zM90 25h1v1h-1zM90 44h1v1h-1zM90 51h1v1h-1zM90 53h1v1h-1zM90 54h1v1h-1zM90 64h1v1h-1zM90 75h1v1h-1zM90 79h1v1h-1zM90 82h1v1h-1zM90 83h1v1h-1zM90 85h1v1h-1zM90 92h1v1h-1zM90 95h1v1h-1zM90 96h1v1h-1zM90 98h1v1h-1zM91 23h1v1h-1zM91 30h1v1h-1zM91 42h1v1h-1zM91 46h1v1h-1zM91 48h1v1h-1zM91 51h1v1h-1zM91 53h1v1h-1zM91 54h1v1h-1zM91 64h1v1h-1zM91 72h1v1h-1zM91 76h1v1h-1zM91 84h1v1h-1zM91 85h1v1h-1zM91 93h1v1h-1zM91 99h1v1h-1zM92 25h1v1h-1zM92 46h1v1h-1zM92 48h1v1h-1zM92 50h1v1h-1zM92 52h1v1h-1zM92 54h1v1h-1zM92 89h1v1h-1zM92 90h1v1h-1zM92 96h1v1h-1zM93 26h1v1h-1zM93 44h1v1h-1zM93 45h1v1h-1zM93 46h1v1h-1zM93 49h1v1h-1zM93 61h1v1h-1zM93 89h1v1h-1zM94 46h1v1h-1zM94 74h1v1h-1zM94 88h1v1h-1zM94 90h1v1h-1zM95 41h1v1h-1zM96 36h1v1h-1zM97 23h1v1h-1zM97 27h1v1h-1zM97 35h1v1h-1zM99 47h1v1h-1zM100 37h1v1h-1zM100 41h1v1h-1zM102 29h1v1h-1zM102 99h1v1h-1zM103 93h1v1h-1zM103 99h1v1h-1zM103 102h1v1h-1zM104 92h1v1h-1zM104 97h1v1h-1zM105 94h1v1h-1zM105 97h1v1h-1zM105 98h1v1h-1zM105 101h1v1h-1zM106 34h1v1h-1zM106 93h1v1h-1zM106 94h1v1h-1zM106 95h1v1h-1zM106 96h1v1h-1zM106 97h1v1h-1zM106 99h1v1h-1zM106 100h1v1h-1zM107 92h1v1h-1zM107 93h1v1h-1zM107 96h1v1h-1zM107 97h1v1h-1zM107 98h1v1h-1zM107 100h1v1h-1zM108 62h1v1h-1zM108 90h1v1h-1zM108 92h1v1h-1zM109 86h1v1h-1zM109 94h1v1h-1zM109 95h1v1h-1zM109 96h1v1h-1zM109 97h1v1h-1zM109 98h1v1h-1zM110 93h1v1h-1zM110 94h1v1h-1zM110 96h1v1h-1zM111 90h1v1h-1zM111 93h1v1h-1zM111 94h1v1h-1zM111 95h1v1h-1zM111 96h1v1h-1zM111 97h1v1h-1zM112 94h1v1h-1zM112 95h1v1h-1zM113 89h1v1h-1zM113 93h1v1h-1zM113 95h1v1h-1zM113 96h1v1h-1zM113 97h1v1h-1zM114 91h1v1h-1zM114 92h1v1h-1zM114 93h1v1h-1zM114 96h1v1h-1zM114 97h1v1h-1zM115 71h1v1h-1zM115 87h1v1h-1zM115 88h1v1h-1zM115 91h1v1h-1zM115 93h1v1h-1zM116 87h1v1h-1zM116 93h1v1h-1zM116 95h1v1h-1zM116 96h1v1h-1zM116 97h1v1h-1zM117 85h1v1h-1zM117 92h1v1h-1zM117 93h1v1h-1zM117 95h1v1h-1zM117 96h1v1h-1zM117 97h1v1h-1zM118 89h1v1h-1zM118 95h1v1h-1zM118 96h1v1h-1zM118 97h1v1h-1zM119 90h1v1h-1zM119 91h1v1h-1zM119 93h1v1h-1zM119 94h1v1h-1zM119 97h1v1h-1zM120 54h1v1h-1zM120 90h1v1h-1zM120 95h1v1h-1zM120 96h1v1h-1zM121 96h1v1h-1zM122 93h1v1h-1zM122 95h1v1h-1zM123 86h1v1h-1zM123 89h1v1h-1zM123 90h1v1h-1zM123 94h1v1h-1zM124 94h1v1h-1zM124 98h1v1h-1zM126 85h1v1h-1zM126 89h1v1h-1zM127 81h1v1h-1zM128 91h1v1h-1zM129 81h1v1h-1zM129 87h1v1h-1zM130 79h1v1h-1zM151 92h1v1h-1zM151 105h1v1h-1zM151 108h1v1h-1zM152 109h1v1h-1zM152 112h1v1h-1zM153 106h1v1h-1z" fill="#2020ee"/>
<path d="M40 29h1v1h-1zM40 32h1v1h-1zM41 30h1v1h-1zM41 32h1v1h-1zM42 30h1v1h-1zM43 30h1v1h-1zM46 26h1v1h-1zM48 26h1v1h-1zM52 42h1v1h-1zM52 43h1v1h-1zM53 43h1v1h-1zM53 44h1v1h-1zM54 29h1v1h-1zM54 44h1v1h-1zM55 28h1v1h-1zM55 33h1v1h-1zM56 32h1v1h-1zM56 44h1v1h-1zM57 31h1v1h-1zM58 29h1v1h-1zM59 29h1v1h-1zM59 31h1v1h-1zM59 33h1v1h-1zM60 30h1v1h-1z" fill="#e03a3a"/>
<path d="M24 172h1v1h-1zM25 165h1v1h-1zM26 171h1v1h-1zM26 174h1v1h-1zM27 151h1v1h-1zM27 164h1v1h-1zM27 165h1v1h-1zM28 168h1v1h-1zM28 174h1v1h-1zM28 182h1v1h-1zM28 186h1v1h-1zM28 187h1v1h-1zM29 159h1v1h-1zM29 173h1v1h-1zM29 178h1v1h-1zM29 197h1v1h-1zM30 179h1v1h-1zM30 185h1v1h-1zM30 186h1v1h-1zM30 187h1v1h-1zM30 188h1v1h-1zM30 190h1v1h-1zM31 154h1v1h-1zM31 157h1v1h-1zM31 167h1v1h-1zM31 175h1v1h-1zM31 181h1v1h-1zM31 184h1v1h-1zM31 186h1v1h-1zM31 187h1v1h-1zM31 189h1v1h-1zM31 192h1v1h-1zM31 193h1v1h-1zM32 157h1v1h-1zM32 166h1v1h-1zM32 168h1v1h-1zM32 176h1v1h-1zM32 182h1v1h-1zM32 183h1v1h-1zM32 189h1v1h-1zM32 196h1v1h-1zM33 159h1v1h-1zM33 172h1v1h-1zM33 185h1v1h-1zM33 186h1v1h-1zM34 152h1v1h-1zM34 154h1v1h-1zM34 161h1v1h-1zM34 168h1v1h-1zM34 169h1v1h-1zM34 174h1v1h-1zM34 187h1v1h-1zM35 166h1v1h-1zM35 172h1v1h-1zM35 174h1v1h-1zM36 151h1v1h-1zM36 157h1v1h-1zM36 159h1v1h-1zM36 163h1v1h-1zM36 171h1v1h-1zM36 172h1v1h-1zM36 182h1v1h-1zM36 185h1v1h-1zM36 194h1v1h-1zM37 158h1v1h-1zM37 159h1v1h-1zM37 160h1v1h-1zM37 165h1v1h-1zM37 168h1v1h-1zM37 172h1v1h-1zM37 173h1v1h-1zM38 150h1v1h-1zM38 153h1v1h-1zM38 156h1v1h-1zM38 158h1v1h-1zM38 159h1v1h-1zM38 160h1v1h-1zM38 161h1v1h-1zM38 162h1v1h-1zM38 174h1v1h-1zM38 186h1v1h-1zM38 198h1v1h-1zM38 199h1v1h-1zM39 152h1v1h-1zM39 154h1v1h-1zM39 156h1v1h-1zM39 157h1v1h-1zM39 158h1v1h-1zM39 159h1v1h-1zM39 174h1v1h-1zM39 178h1v1h-1zM39 179h1v1h-1zM40 159h1v1h-1zM40 162h1v1h-1zM40 166h1v1h-1zM40 167h1v1h-1zM40 169h1v1h-1zM40 178h1v1h-1zM40 180h1v1h-1zM41 151h1v1h-1zM41 160h1v1h-1zM41 162h1v1h-1zM41 166h1v1h-1zM41 168h1v1h-1zM41 171h1v1h-1zM41 173h1v1h-1zM41 180h1v1h-1zM41 182h1v1h-1zM41 193h1v1h-1zM42 158h1v1h-1zM42 192h1v1h-1zM43 152h1v1h-1zM43 157h1v1h-1zM43 160h1v1h-1zM44 169h1v1h-1zM44 175h1v1h-1zM44 177h1v1h-1zM45 156h1v1h-1zM45 163h1v1h-1zM45 166h1v1h-1zM45 186h1v1h-1zM46 156h1v1h-1zM46 192h1v1h-1zM46 202h1v1h-1zM47 163h1v1h-1zM47 176h1v1h-1zM47 190h1v1h-1zM47 198h1v1h-1zM47 211h1v1h-1zM48 156h1v1h-1zM48 187h1v1h-1zM48 198h1v1h-1zM49 155h1v1h-1zM49 209h1v1h-1zM50 192h1v1h-1zM50 201h1v1h-1zM51 154h1v1h-1zM51 161h1v1h-1zM51 164h1v1h-1zM51 172h1v1h-1zM51 198h1v1h-1zM51 199h1v1h-1zM51 201h1v1h-1zM52 151h1v1h-1zM52 156h1v1h-1zM52 167h1v1h-1zM52 172h1v1h-1zM52 173h1v1h-1zM52 177h1v1h-1zM52 195h1v1h-1zM52 198h1v1h-1zM52 199h1v1h-1zM53 151h1v1h-1zM53 155h1v1h-1zM53 161h1v1h-1zM53 173h1v1h-1zM53 174h1v1h-1zM53 181h1v1h-1zM53 196h1v1h-1zM53 197h1v1h-1zM53 198h1v1h-1zM53 199h1v1h-1zM53 202h1v1h-1zM53 205h1v1h-1zM54 152h1v1h-1zM54 153h1v1h-1zM54 159h1v1h-1zM54 165h1v1h-1zM54 174h1v1h-1zM54 197h1v1h-1zM54 198h1v1h-1zM54 205h1v1h-1zM54 213h1v1h-1zM55 150h1v1h-1zM55 152h1v1h-1zM55 154h1v1h-1zM55 158h1v1h-1zM55 163h1v1h-1zM55 194h1v1h-1zM55 197h1v1h-1zM55 198h1v1h-1zM55 199h1v1h-1zM55 200h1v1h-1zM56 151h1v1h-1zM56 152h1v1h-1zM56 155h1v1h-1zM56 162h1v1h-1zM56 172h1v1h-1zM56 174h1v1h-1zM56 197h1v1h-1zM56 198h1v1h-1zM56 199h1v1h-1zM56 203h1v1h-1zM57 154h1v1h-1zM57 155h1v1h-1zM57 156h1v1h-1zM57 157h1v1h-1zM57 161h1v1h-1zM57 193h1v1h-1zM57 199h1v1h-1zM57 207h1v1h-1zM58 156h1v1h-1zM58 159h1v1h-1zM58 193h1v1h-1zM58 195h1v1h-1zM58 196h1v1h-1zM58 197h1v1h-1zM58 198h1v1h-1zM58 216h1v1h-1zM59 151h1v1h-1zM59 152h1v1h-1zM59 154h1v1h-1zM59 155h1v1h-1zM59 156h1v1h-1zM59 157h1v1h-1zM59 158h1v1h-1zM59 159h1v1h-1zM59 161h1v1h-1zM59 163h1v1h-1zM59 169h1v1h-1zM59 192h1v1h-1zM59 194h1v1h-1zM59 204h1v1h-1zM59 213h1v1h-1zM60 150h1v1h-1zM60 153h1v1h-1zM60 154h1v1h-1zM60 155h1v1h-1zM60 157h1v1h-1zM60 158h1v1h-1zM60 159h1v1h-1zM60 160h1v1h-1zM60 175h1v1h-1zM60 188h1v1h-1zM60 201h1v1h-1zM60 217h1v1h-1zM61 152h1v1h-1zM61 153h1v1h-1zM61 155h1v1h-1zM61 159h1v1h-1zM61 160h1v1h-1zM61 182h1v1h-1zM61 183h1v1h-1zM61 186h1v1h-1zM61 194h1v1h-1zM61 212h1v1h-1zM62 153h1v1h-1zM62 155h1v1h-1zM62 157h1v1h-1zM62 158h1v1h-1zM62 159h1v1h-1zM62 160h1v1h-1zM62 161h1v1h-1zM62 170h1v1h-1zM62 189h1v1h-1zM62 196h1v1h-1zM62 198h1v1h-1zM62 207h1v1h-1zM62 209h1v1h-1zM62 211h1v1h-1zM62 218h1v1h-1zM63 152h1v1h-1zM63 153h1v1h-1zM63 154h1v1h-1zM63 155h1v1h-1zM63 157h1v1h-1zM63 159h1v1h-1zM63 160h1v1h-1zM63 161h1v1h-1zM63 162h1v1h-1zM63 171h1v1h-1zM63 173h1v1h-1zM63 179h1v1h-1zM63 184h1v1h-1zM63 204h1v1h-1zM63 214h1v1h-1zM64 150h1v1h-1zM64 151h1v1h-1zM64 153h1v1h-1zM64 155h1v1h-1zM64 156h1v1h-1zM64 158h1v1h-1zM64 159h1v1h-1zM64 160h1v1h-1zM64 161h1v1h-1zM64 162h1v1h-1zM64 163h1v1h-1zM64 172h1v1h-1zM65 150h1v1h-1zM65 151h1v1h-1zM65 152h1v1h-1zM65 153h1v1h-1zM65 155h1v1h-1zM65 156h1v1h-1zM65 158h1v1h-1zM65 159h1v1h-1zM65 160h1v1h-1zM65 161h1v1h-1zM65 162h1v1h-1zM65 163h1v1h-1zM65 168h1v1h-1zM65 169h1v1h-1zM65 170h1v1h-1zM65 171h1v1h-1zM65 175h1v1h-1zM65 194h1v1h-1zM65 205h1v1h-1zM65 207h1v1h-1zM65 208h1v1h-1zM65 210h1v1h-1zM65 215h1v1h-1zM65 219h1v1h-1zM65 220h1v1h-1zM66 154h1v1h-1zM66 158h1v1h-1zM66 163h1v1h-1zM66 169h1v1h-1zM66 170h1v1h-1zM66 175h1v1h-1zM66 195h1v1h-1zM66 200h1v1h-1zM66 208h1v1h-1zM66 212h1v1h-1zM67 150h1v1h-1zM67 151h1v1h-1zM67 152h1v1h-1zM67 156h1v1h-1zM67 157h1v1h-1zM67 158h1v1h-1zM67 162h1v1h-1zM67 164h1v1h-1zM67 166h1v1h-1zM67 167h1v1h-1zM67 169h1v1h-1zM67 170h1v1h-1zM67 171h1v1h-1zM67 196h1v1h-1zM67 201h1v1h-1zM67 206h1v1h-1zM67 211h1v1h-1zM68 151h1v1h-1zM68 153h1v1h-1zM68 154h1v1h-1zM68 155h1v1h-1zM68 157h1v1h-1zM68 158h1v1h-1zM68 159h1v1h-1zM68 162h1v1h-1zM68 163h1v1h-1zM68 164h1v1h-1zM68 166h1v1h-1zM68 172h1v1h-1zM68 174h1v1h-1zM68 190h1v1h-1zM68 194h1v1h-1zM68 201h1v1h-1zM68 202h1v1h-1zM68 204h1v1h-1zM68 206h1v1h-1zM68 208h1v1h-1zM68 215h1v1h-1zM69 151h1v1h-1zM69 152h1v1h-1zM69 153h1v1h-1zM69 154h1v1h-1zM69 157h1v1h-1zM69 158h1v1h-1zM69 160h1v1h-1zM69 161h1v1h-1zM69 162h1v1h-1zM69 164h1v1h-1zM69 165h1v1h-1zM69 168h1v1h-1zM69 169h1v1h-1zM69 170h1v1h-1zM69 183h1v1h-1zM69 195h1v1h-1zM69 201h1v1h-1zM69 202h1v1h-1zM69 205h1v1h-1zM69 206h1v1h-1zM69 208h1v1h-1zM69 209h1v1h-1zM69 211h1v1h-1zM70 150h1v1h-1zM70 151h1v1h-1zM70 152h1v1h-1zM70 153h1v1h-1zM70 154h1v1h-1zM70 155h1v1h-1zM70 156h1v1h-1zM70 157h1v1h-1zM70 158h1v1h-1zM70 159h1v1h-1zM70 161h1v1h-1zM70 163h1v1h-1zM70 167h1v1h-1zM70 168h1v1h-1zM70 191h1v1h-1zM70 196h1v1h-1zM70 197h1v1h-1zM70 202h1v1h-1zM70 203h1v1h-1zM70 204h1v1h-1zM70 205h1v1h-1zM70 207h1v1h-1zM70 209h1v1h-1zM70 211h1v1h-1zM71 150h1v1h-1zM71 152h1v1h-1zM71 154h1v1h-1zM71 156h1v1h-1zM71 157h1v1h-1zM71 158h1v1h-1zM71 160h1v1h-1zM71 162h1v1h-1zM71 164h1v1h-1zM71 167h1v1h-1zM71 196h1v1h-1zM71 197h1v1h-1zM71 198h1v1h-1zM71 201h1v1h-1zM71 202h1v1h-1zM71 207h1v1h-1zM71 211h1v1h-1zM71 212h1v1h-1zM71 214h1v1h-1zM71 215h1v1h-1zM72 150h1v1h-1zM72 158h1v1h-1zM72 159h1v1h-1zM72 161h1v1h-1zM72 163h1v1h-1zM72 164h1v1h-1zM72 165h1v1h-1zM72 170h1v1h-1zM72 177h1v1h-1zM72 183h1v1h-1zM72 191h1v1h-1zM72 196h1v1h-1zM72 199h1v1h-1zM72 200h1v1h-1zM72 202h1v1h-1zM72 203h1v1h-1zM72 206h1v1h-1zM72 208h1v1h-1zM72 210h1v1h-1zM72 211h1v1h-1zM72 213h1v1h-1zM72 214h1v1h-1zM72 217h1v1h-1zM72 218h1v1h-1zM73 150h1v1h-1zM73 151h1v1h-1zM73 152h1v1h-1zM73 153h1v1h-1zM73 154h1v1h-1zM73 155h1v1h-1zM73 156h1v1h-1zM73 158h1v1h-1zM73 159h1v1h-1zM73 160h1v1h-1zM73 163h1v1h-1zM73 166h1v1h-1zM73 183h1v1h-1zM73 186h1v1h-1zM73 188h1v1h-1zM73 191h1v1h-1zM73 199h1v1h-1zM73 201h1v1h-1zM73 202h1v1h-1zM73 204h1v1h-1zM73 205h1v1h-1zM73 207h1v1h-1zM73 208h1v1h-1zM73 209h1v1h-1zM73 211h1v1h-1zM73 212h1v1h-1zM73 213h1v1h-1zM73 215h1v1h-1zM73 216h1v1h-1zM73 217h1v1h-1zM73 218h1v1h-1zM73 219h1v1h-1zM74 150h1v1h-1zM74 151h1v1h-1zM74 154h1v1h-1zM74 155h1v1h-1zM74 156h1v1h-1zM74 157h1v1h-1zM74 158h1v1h-1zM74 159h1v1h-1zM74 160h1v1h-1zM74 161h1v1h-1zM74 164h1v1h-1zM74 184h1v1h-1zM74 185h1v1h-1zM74 188h1v1h-1zM74 192h1v1h-1zM74 195h1v1h-1zM74 197h1v1h-1zM74 199h1v1h-1zM74 202h1v1h-1zM74 204h1v1h-1zM74 205h1v1h-1zM74 206h1v1h-1zM74 207h1v1h-1zM74 208h1v1h-1zM74 209h1v1h-1zM74 210h1v1h-1zM74 211h1v1h-1zM74 212h1v1h-1zM74 213h1v1h-1zM74 218h1v1h-1zM75 150h1v1h-1zM75 151h1v1h-1zM75 154h1v1h-1zM75 155h1v1h-1zM75 156h1v1h-1zM75 157h1v1h-1zM75 158h1v1h-1zM75 161h1v1h-1zM75 162h1v1h-1zM75 163h1v1h-1zM75 174h1v1h-1zM75 186h1v1h-1zM75 187h1v1h-1zM75 192h1v1h-1zM75 198h1v1h-1zM75 201h1v1h-1zM75 203h1v1h-1zM75 204h1v1h-1zM75 207h1v1h-1zM75 208h1v1h-1zM75 209h1v1h-1zM75 210h1v1h-1zM75 211h1v1h-1zM75 212h1v1h-1zM75 213h1v1h-1zM75 221h1v1h-1zM76 154h1v1h-1zM76 157h1v1h-1zM76 158h1v1h-1zM76 159h1v1h-1zM76 161h1v1h-1zM76 162h1v1h-1zM76 163h1v1h-1zM76 164h1v1h-1zM76 165h1v1h-1zM76 166h1v1h-1zM76 167h1v1h-1zM76 174h1v1h-1zM76 178h1v1h-1zM76 179h1v1h-1zM76 183h1v1h-1zM76 189h1v1h-1zM76 192h1v1h-1zM76 193h1v1h-1zM76 204h1v1h-1zM76 205h1v1h-1zM76 206h1v1h-1zM76 208h1v1h-1zM76 209h1v1h-1zM76 213h1v1h-1zM76 214h1v1h-1zM76 215h1v1h-1zM76 218h1v1h-1zM77 150h1v1h-1zM77 151h1v1h-1zM77 152h1v1h-1zM77 153h1v1h-1zM77 155h1v1h-1zM77 156h1v1h-1zM77 157h1v1h-1zM77 158h1v1h-1zM77 159h1v1h-1zM77 160h1v1h-1zM77 161h1v1h-1zM77 162h1v1h-1zM77 165h1v1h-1zM77 166h1v1h-1zM77 167h1v1h-1zM77 168h1v1h-1zM77 169h1v1h-1zM77 185h1v1h-1zM77 186h1v1h-1zM77 188h1v1h-1zM77 190h1v1h-1zM77 193h1v1h-1zM77 195h1v1h-1zM77 196h1v1h-1zM77 199h1v1h-1zM77 204h1v1h-1zM77 205h1v1h-1zM77 206h1v1h-1zM77 207h1v1h-1zM77 208h1v1h-1zM77 209h1v1h-1zM77 210h1v1h-1zM77 212h1v1h-1zM77 213h1v1h-1zM77 216h1v1h-1zM78 151h1v1h-1zM78 152h1v1h-1zM78 153h1v1h-1zM78 154h1v1h-1zM78 155h1v1h-1zM78 156h1v1h-1zM78 157h1v1h-1zM78 158h1v1h-1zM78 159h1v1h-1zM78 160h1v1h-1zM78 161h1v1h-1zM78 162h1v1h-1zM78 163h1v1h-1zM78 164h1v1h-1zM78 165h1v1h-1zM78 166h1v1h-1zM78 167h1v1h-1zM78 169h1v1h-1zM78 170h1v1h-1zM78 178h1v1h-1zM78 179h1v1h-1zM78 187h1v1h-1zM78 191h1v1h-1zM78 192h1v1h-1zM78 194h1v1h-1zM78 196h1v1h-1zM78 199h1v1h-1zM78 200h1v1h-1zM78 202h1v1h-1zM78 205h1v1h-1zM78 207h1v1h-1zM78 208h1v1h-1zM78 211h1v1h-1zM78 212h1v1h-1zM79 153h1v1h-1zM79 154h1v1h-1zM79 156h1v1h-1zM79 157h1v1h-1zM79 158h1v1h-1zM79 159h1v1h-1zM79 160h1v1h-1zM79 161h1v1h-1zM79 162h1v1h-1zM79 163h1v1h-1zM79 164h1v1h-1zM79 165h1v1h-1zM79 167h1v1h-1zM79 170h1v1h-1zM79 171h1v1h-1zM79 173h1v1h-1zM79 179h1v1h-1zM79 184h1v1h-1zM79 185h1v1h-1zM79 186h1v1h-1zM79 194h1v1h-1zM79 196h1v1h-1zM79 198h1v1h-1zM79 200h1v1h-1zM79 202h1v1h-1zM79 203h1v1h-1zM79 204h1v1h-1zM79 205h1v1h-1zM79 206h1v1h-1zM79 207h1v1h-1zM79 208h1v1h-1zM79 211h1v1h-1zM79 212h1v1h-1zM79 213h1v1h-1zM79 214h1v1h-1zM79 216h1v1h-1zM79 222h1v1h-1zM79 225h1v1h-1zM80 153h1v1h-1zM80 154h1v1h-1zM80 155h1v1h-1zM80 156h1v1h-1zM80 157h1v1h-1zM80 160h1v1h-1zM80 161h1v1h-1zM80 162h1v1h-1zM80 163h1v1h-1zM80 164h1v1h-1zM80 165h1v1h-1zM80 166h1v1h-1zM80 168h1v1h-1zM80 169h1v1h-1zM80 172h1v1h-1zM80 173h1v1h-1zM80 176h1v1h-1zM80 177h1v1h-1zM80 183h1v1h-1zM80 185h1v1h-1zM80 186h1v1h-1zM80 187h1v1h-1zM80 189h1v1h-1zM80 190h1v1h-1zM80 195h1v1h-1zM80 196h1v1h-1zM80 199h1v1h-1zM80 200h1v1h-1zM80 201h1v1h-1zM80 202h1v1h-1zM80 203h1v1h-1zM80 204h1v1h-1zM80 205h1v1h-1zM80 207h1v1h-1zM80 210h1v1h-1zM80 211h1v1h-1zM80 212h1v1h-1zM80 213h1v1h-1zM80 216h1v1h-1zM80 217h1v1h-1zM80 218h1v1h-1zM81 150h1v1h-1zM81 153h1v1h-1zM81 154h1v1h-1zM81 155h1v1h-1zM81 156h1v1h-1zM81 157h1v1h-1zM81 158h1v1h-1zM81 159h1v1h-1zM81 160h1v1h-1zM81 161h1v1h-1zM81 162h1v1h-1zM81 163h1v1h-1zM81 164h1v1h-1zM81 165h1v1h-1zM81 166h1v1h-1zM81 167h1v1h-1zM81 168h1v1h-1zM81 169h1v1h-1zM81 170h1v1h-1zM81 171h1v1h-1zM81 173h1v1h-1zM81 175h1v1h-1zM81 177h1v1h-1zM81 181h1v1h-1zM81 185h1v1h-1zM81 186h1v1h-1zM81 187h1v1h-1zM81 191h1v1h-1zM81 194h1v1h-1zM81 196h1v1h-1zM81 199h1v1h-1zM81 200h1v1h-1zM81 205h1v1h-1zM81 207h1v1h-1zM81 208h1v1h-1zM81 211h1v1h-1zM81 213h1v1h-1zM81 214h1v1h-1zM81 215h1v1h-1zM81 218h1v1h-1zM81 225h1v1h-1zM81 226h1v1h-1zM82 154h1v1h-1zM82 157h1v1h-1zM82 158h1v1h-1zM82 163h1v1h-1zM82 164h1v1h-1zM82 165h1v1h-1zM82 166h1v1h-1zM82 167h1v1h-1zM82 168h1v1h-1zM82 169h1v1h-1zM82 170h1v1h-1zM82 172h1v1h-1zM82 173h1v1h-1zM82 174h1v1h-1zM82 175h1v1h-1zM82 176h1v1h-1zM82 178h1v1h-1zM82 181h1v1h-1zM82 184h1v1h-1zM82 186h1v1h-1zM82 187h1v1h-1zM82 188h1v1h-1zM82 192h1v1h-1zM82 193h1v1h-1zM82 197h1v1h-1zM82 203h1v1h-1zM82 205h1v1h-1zM82 211h1v1h-1zM82 214h1v1h-1zM82 218h1v1h-1zM82 219h1v1h-1zM82 220h1v1h-1zM82 222h1v1h-1zM82 223h1v1h-1zM82 226h1v1h-1zM83 152h1v1h-1zM83 153h1v1h-1zM83 154h1v1h-1zM83 155h1v1h-1zM83 156h1v1h-1zM83 157h1v1h-1zM83 158h1v1h-1zM83 159h1v1h-1zM83 161h1v1h-1zM83 162h1v1h-1zM83 163h1v1h-1zM83 164h1v1h-1zM83 165h1v1h-1zM83 166h1v1h-1zM83 167h1v1h-1zM83 168h1v1h-1zM83 169h1v1h-1zM83 170h1v1h-1zM83 171h1v1h-1zM83 172h1v1h-1zM83 173h1v1h-1zM83 174h1v1h-1zM83 176h1v1h-1zM83 179h1v1h-1zM83 180h1v1h-1zM83 184h1v1h-1zM83 185h1v1h-1zM83 187h1v1h-1zM83 193h1v1h-1zM83 201h1v1h-1zM83 203h1v1h-1zM83 205h1v1h-1zM83 210h1v1h-1zM83 211h1v1h-1zM83 213h1v1h-1zM83 215h1v1h-1zM83 219h1v1h-1zM83 220h1v1h-1zM84 150h1v1h-1zM84 151h1v1h-1zM84 153h1v1h-1zM84 154h1v1h-1zM84 155h1v1h-1zM84 156h1v1h-1zM84 157h1v1h-1zM84 158h1v1h-1zM84 160h1v1h-1zM84 162h1v1h-1zM84 163h1v1h-1zM84 164h1v1h-1zM84 165h1v1h-1zM84 167h1v1h-1zM84 168h1v1h-1zM84 169h1v1h-1zM84 170h1v1h-1zM84 171h1v1h-1zM84 172h1v1h-1zM84 174h1v1h-1zM84 175h1v1h-1zM84 176h1v1h-1zM84 177h1v1h-1zM84 178h1v1h-1zM84 179h1v1h-1zM84 180h1v1h-1zM84 185h1v1h-1zM84 188h1v1h-1zM84 189h1v1h-1zM84 191h1v1h-1zM84 195h1v1h-1zM84 208h1v1h-1zM84 212h1v1h-1zM84 215h1v1h-1zM84 222h1v1h-1zM85 150h1v1h-1zM85 151h1v1h-1zM85 153h1v1h-1zM85 154h1v1h-1zM85 157h1v1h-1zM85 159h1v1h-1zM85 160h1v1h-1zM85 162h1v1h-1zM85 163h1v1h-1zM85 164h1v1h-1zM85 165h1v1h-1zM85 166h1v1h-1zM85 168h1v1h-1zM85 169h1v1h-1zM85 170h1v1h-1zM85 171h1v1h-1zM85 172h1v1h-1zM85 174h1v1h-1zM85 175h1v1h-1zM85 177h1v1h-1zM85 178h1v1h-1zM85 180h1v1h-1zM85 181h1v1h-1zM85 183h1v1h-1zM85 187h1v1h-1zM85 188h1v1h-1zM85 189h1v1h-1zM85 192h1v1h-1zM85 193h1v1h-1zM85 194h1v1h-1zM85 199h1v1h-1zM85 203h1v1h-1zM85 204h1v1h-1zM85 205h1v1h-1zM85 210h1v1h-1zM85 212h1v1h-1zM85 222h1v1h-1zM86 151h1v1h-1zM86 152h1v1h-1zM86 153h1v1h-1zM86 154h1v1h-1zM86 155h1v1h-1zM86 156h1v1h-1zM86 157h1v1h-1zM86 158h1v1h-1zM86 159h1v1h-1zM86 160h1v1h-1zM86 161h1v1h-1zM86 162h1v1h-1zM86 163h1v1h-1zM86 164h1v1h-1zM86 165h1v1h-1zM86 166h1v1h-1zM86 167h1v1h-1zM86 168h1v1h-1zM86 169h1v1h-1zM86 171h1v1h-1zM86 172h1v1h-1zM86 173h1v1h-1zM86 174h1v1h-1zM86 175h1v1h-1zM86 176h1v1h-1zM86 177h1v1h-1zM86 178h1v1h-1zM86 180h1v1h-1zM86 183h1v1h-1zM86 184h1v1h-1zM86 185h1v1h-1zM86 190h1v1h-1zM86 192h1v1h-1zM86 198h1v1h-1zM86 199h1v1h-1zM86 203h1v1h-1zM86 205h1v1h-1zM86 210h1v1h-1zM86 214h1v1h-1zM86 222h1v1h-1zM86 224h1v1h-1zM87 150h1v1h-1zM87 151h1v1h-1zM87 152h1v1h-1zM87 155h1v1h-1zM87 156h1v1h-1zM87 157h1v1h-1zM87 158h1v1h-1zM87 160h1v1h-1zM87 162h1v1h-1zM87 163h1v1h-1zM87 164h1v1h-1zM87 165h1v1h-1zM87 166h1v1h-1zM87 167h1v1h-1zM87 168h1v1h-1zM87 169h1v1h-1zM87 171h1v1h-1zM87 172h1v1h-1zM87 173h1v1h-1zM87 174h1v1h-1zM87 176h1v1h-1zM87 177h1v1h-1zM87 178h1v1h-1zM87 179h1v1h-1zM87 180h1v1h-1zM87 181h1v1h-1zM87 182h1v1h-1zM87 185h1v1h-1zM87 187h1v1h-1zM87 190h1v1h-1zM87 191h1v1h-1zM87 202h1v1h-1zM87 206h1v1h-1zM87 209h1v1h-1zM87 211h1v1h-1zM87 215h1v1h-1zM87 219h1v1h-1zM87 220h1v1h-1zM87 225h1v1h-1zM88 153h1v1h-1zM88 154h1v1h-1zM88 155h1v1h-1zM88 157h1v1h-1zM88 160h1v1h-1zM88 161h1v1h-1zM88 162h1v1h-1zM88 163h1v1h-1zM88 164h1v1h-1zM88 165h1v1h-1zM88 166h1v1h-1zM88 168h1v1h-1zM88 169h1v1h-1zM88 170h1v1h-1zM88 171h1v1h-1zM88 172h1v1h-1zM88 173h1v1h-1zM88 176h1v1h-1zM88 177h1v1h-1zM88 178h1v1h-1zM88 179h1v1h-1zM88 181h1v1h-1zM88 182h1v1h-1zM88 183h1v1h-1zM88 184h1v1h-1zM88 185h1v1h-1zM88 188h1v1h-1zM88 190h1v1h-1zM88 193h1v1h-1zM88 194h1v1h-1zM88 196h1v1h-1zM88 200h1v1h-1zM88 202h1v1h-1zM88 204h1v1h-1zM88 210h1v1h-1zM88 211h1v1h-1zM88 213h1v1h-1zM88 214h1v1h-1zM88 216h1v1h-1zM88 220h1v1h-1zM88 221h1v1h-1zM88 223h1v1h-1zM88 224h1v1h-1zM89 153h1v1h-1zM89 154h1v1h-1zM89 155h1v1h-1zM89 156h1v1h-1zM89 157h1v1h-1zM89 158h1v1h-1zM89 159h1v1h-1zM89 160h1v1h-1zM89 161h1v1h-1zM89 162h1v1h-1zM89 163h1v1h-1zM89 164h1v1h-1zM89 165h1v1h-1zM89 167h1v1h-1zM89 168h1v1h-1zM89 169h1v1h-1zM89 170h1v1h-1zM89 172h1v1h-1zM89 173h1v1h-1zM89 174h1v1h-1zM89 175h1v1h-1zM89 177h1v1h-1zM89 178h1v1h-1zM89 179h1v1h-1zM89 180h1v1h-1zM89 181h1v1h-1zM89 182h1v1h-1zM89 184h1v1h-1zM89 185h1v1h-1zM89 186h1v1h-1zM89 189h1v1h-1zM89 190h1v1h-1zM89 194h1v1h-1zM89 195h1v1h-1zM89 200h1v1h-1zM89 206h1v1h-1zM89 209h1v1h-1zM89 213h1v1h-1zM89 215h1v1h-1zM89 216h1v1h-1zM89 218h1v1h-1zM89 221h1v1h-1zM89 223h1v1h-1zM89 224h1v1h-1zM89 227h1v1h-1zM89 228h1v1h-1zM90 150h1v1h-1zM90 152h1v1h-1zM90 153h1v1h-1zM90 154h1v1h-1zM90 155h1v1h-1zM90 156h1v1h-1zM90 157h1v1h-1zM90 158h1v1h-1zM90 159h1v1h-1zM90 160h1v1h-1zM90 161h1v1h-1zM90 162h1v1h-1zM90 163h1v1h-1zM90 165h1v1h-1zM90 166h1v1h-1zM90 167h1v1h-1zM90 168h1v1h-1zM90 169h1v1h-1zM90 170h1v1h-1zM90 171h1v1h-1zM90 173h1v1h-1zM90 174h1v1h-1zM90 175h1v1h-1zM90 176h1v1h-1zM90 177h1v1h-1zM90 180h1v1h-1zM90 181h1v1h-1zM90 183h1v1h-1zM90 184h1v1h-1zM90 194h1v1h-1zM90 205h1v1h-1zM90 209h1v1h-1zM90 212h1v1h-1zM90 213h1v1h-1zM90 214h1v1h-1zM90 215h1v1h-1zM90 222h1v1h-1zM90 225h1v1h-1zM90 226h1v1h-1zM90 228h1v1h-1zM91 150h1v1h-1zM91 151h1v1h-1zM91 153h1v1h-1zM91 154h1v1h-1zM91 155h1v1h-1zM91 156h1v1h-1zM91 157h1v1h-1zM91 158h1v1h-1zM91 159h1v1h-1zM91 160h1v1h-1zM91 161h1v1h-1zM91 162h1v1h-1zM91 163h1v1h-1zM91 165h1v1h-1zM91 166h1v1h-1zM91 167h1v1h-1zM91 168h1v1h-1zM91 169h1v1h-1zM91 170h1v1h-1zM91 171h1v1h-1zM91 172h1v1h-1zM91 173h1v1h-1zM91 174h1v1h-1zM91 175h1v1h-1zM91 176h1v1h-1zM91 177h1v1h-1zM91 178h1v1h-1zM91 179h1v1h-1zM91 180h1v1h-1zM91 181h1v1h-1zM91 182h1v1h-1zM91 183h1v1h-1zM91 184h1v1h-1zM91 185h1v1h-1zM91 186h1v1h-1zM91 190h1v1h-1zM91 191h1v1h-1zM91 194h1v1h-1zM91 196h1v1h-1zM91 202h1v1h-1zM91 206h1v1h-1zM91 208h1v1h-1zM91 212h1v1h-1zM91 214h1v1h-1zM91 215h1v1h-1zM91 221h1v1h-1zM91 223h1v1h-1zM91 224h1v1h-1zM91 227h1v1h-1zM91 228h1v1h-1zM91 229h1v1h-1zM92 153h1v1h-1zM92 154h1v1h-1zM92 155h1v1h-1zM92 156h1v1h-1zM92 157h1v1h-1zM92 158h1v1h-1zM92 159h1v1h-1zM92 160h1v1h-1zM92 161h1v1h-1zM92 162h1v1h-1zM92 163h1v1h-1zM92 165h1v1h-1zM92 166h1v1h-1zM92 167h1v1h-1zM92 168h1v1h-1zM92 169h1v1h-1zM92 170h1v1h-1zM92 171h1v1h-1zM92 172h1v1h-1zM92 175h1v1h-1zM92 176h1v1h-1zM92 177h1v1h-1zM92 178h1v1h-1zM92 179h1v1h-1zM92 180h1v1h-1zM92 182h1v1h-1zM92 184h1v1h-1zM92 185h1v1h-1zM92 190h1v1h-1zM92 191h1v1h-1zM92 193h1v1h-1zM92 195h1v1h-1zM92 198h1v1h-1zM92 209h1v1h-1zM92 210h1v1h-1zM92 214h1v1h-1zM92 215h1v1h-1zM92 218h1v1h-1zM92 219h1v1h-1zM92 222h1v1h-1zM92 225h1v1h-1zM92 226h1v1h-1zM92 229h1v1h-1zM92 230h1v1h-1zM93 150h1v1h-1zM93 151h1v1h-1zM93 153h1v1h-1zM93 155h1v1h-1zM93 156h1v1h-1zM93 157h1v1h-1zM93 159h1v1h-1zM93 160h1v1h-1zM93 161h1v1h-1zM93 163h1v1h-1zM93 166h1v1h-1zM93 167h1v1h-1zM93 168h1v1h-1zM93 169h1v1h-1zM93 170h1v1h-1zM93 171h1v1h-1zM93 172h1v1h-1zM93 173h1v1h-1zM93 174h1v1h-1zM93 175h1v1h-1zM93 176h1v1h-1zM93 177h1v1h-1zM93 178h1v1h-1zM93 179h1v1h-1zM93 180h1v1h-1zM93 181h1v1h-1zM93 182h1v1h-1zM93 183h1v1h-1zM93 184h1v1h-1zM93 189h1v1h-1zM93 191h1v1h-1zM93 192h1v1h-1zM93 198h1v1h-1zM93 203h1v1h-1zM93 205h1v1h-1zM93 213h1v1h-1zM93 214h1v1h-1zM93 215h1v1h-1zM93 219h1v1h-1zM93 232h1v1h-1zM94 150h1v1h-1zM94 151h1v1h-1zM94 153h1v1h-1zM94 155h1v1h-1zM94 156h1v1h-1zM94 157h1v1h-1zM94 158h1v1h-1zM94 159h1v1h-1zM94 160h1v1h-1zM94 161h1v1h-1zM94 163h1v1h-1zM94 164h1v1h-1zM94 165h1v1h-1zM94 167h1v1h-1zM94 168h1v1h-1zM94 169h1v1h-1zM94 170h1v1h-1zM94 171h1v1h-1zM94 172h1v1h-1zM94 173h1v1h-1zM94 174h1v1h-1zM94 175h1v1h-1zM94 176h1v1h-1zM94 177h1v1h-1zM94 178h1v1h-1zM94 179h1v1h-1zM94 180h1v1h-1zM94 181h1v1h-1zM94 182h1v1h-1zM94 186h1v1h-1zM94 192h1v1h-1zM94 194h1v1h-1zM94 198h1v1h-1zM94 204h1v1h-1zM94 205h1v1h-1zM94 206h1v1h-1zM94 208h1v1h-1zM94 209h1v1h-1zM94 212h1v1h-1zM94 218h1v1h-1zM94 220h1v1h-1zM94 221h1v1h-1zM94 222h1v1h-1zM94 226h1v1h-1zM94 227h1v1h-1zM94 228h1v1h-1zM94 230h1v1h-1zM94 231h1v1h-1zM94 232h1v1h-1zM95 150h1v1h-1zM95 151h1v1h-1zM95 153h1v1h-1zM95 154h1v1h-1zM95 155h1v1h-1zM95 156h1v1h-1zM95 158h1v1h-1zM95 159h1v1h-1zM95 160h1v1h-1zM95 161h1v1h-1zM95 163h1v1h-1zM95 164h1v1h-1zM95 165h1v1h-1zM95 166h1v1h-1zM95 167h1v1h-1zM95 168h1v1h-1zM95 169h1v1h-1zM95 170h1v1h-1zM95 171h1v1h-1zM95 172h1v1h-1zM95 173h1v1h-1zM95 174h1v1h-1zM95 175h1v1h-1zM95 176h1v1h-1zM95 177h1v1h-1zM95 178h1v1h-1zM95 179h1v1h-1zM95 180h1v1h-1zM95 181h1v1h-1zM95 189h1v1h-1zM95 192h1v1h-1zM95 201h1v1h-1zM95 204h1v1h-1zM95 207h1v1h-1zM95 209h1v1h-1zM95 212h1v1h-1zM95 213h1v1h-1zM95 216h1v1h-1zM95 219h1v1h-1zM95 222h1v1h-1zM95 223h1v1h-1zM95 225h1v1h-1zM95 227h1v1h-1zM95 228h1v1h-1zM95 230h1v1h-1zM95 231h1v1h-1zM95 235h1v1h-1zM95 238h1v1h-1zM96 150h1v1h-1zM96 153h1v1h-1zM96 154h1v1h-1zM96 155h1v1h-1zM96 156h1v1h-1zM96 157h1v1h-1zM96 158h1v1h-1zM96 159h1v1h-1zM96 160h1v1h-1zM96 161h1v1h-1zM96 162h1v1h-1zM96 163h1v1h-1zM96 166h1v1h-1zM96 167h1v1h-1zM96 168h1v1h-1zM96 170h1v1h-1zM96 171h1v1h-1zM96 173h1v1h-1zM96 174h1v1h-1zM96 175h1v1h-1zM96 178h1v1h-1zM96 179h1v1h-1zM96 180h1v1h-1zM96 182h1v1h-1zM96 183h1v1h-1zM96 184h1v1h-1zM96 186h1v1h-1zM96 189h1v1h-1zM96 190h1v1h-1zM96 191h1v1h-1zM96 195h1v1h-1zM96 198h1v1h-1zM96 200h1v1h-1zM96 201h1v1h-1zM96 207h1v1h-1zM96 211h1v1h-1zM96 212h1v1h-1zM96 213h1v1h-1zM96 215h1v1h-1zM96 216h1v1h-1zM96 218h1v1h-1zM96 220h1v1h-1zM96 222h1v1h-1zM96 225h1v1h-1zM96 226h1v1h-1zM96 228h1v1h-1zM96 238h1v1h-1zM97 150h1v1h-1zM97 153h1v1h-1zM97 154h1v1h-1zM97 155h1v1h-1zM97 156h1v1h-1zM97 157h1v1h-1zM97 159h1v1h-1zM97 161h1v1h-1zM97 162h1v1h-1zM97 164h1v1h-1zM97 165h1v1h-1zM97 166h1v1h-1zM97 167h1v1h-1zM97 169h1v1h-1zM97 170h1v1h-1zM97 172h1v1h-1zM97 174h1v1h-1zM97 175h1v1h-1zM97 176h1v1h-1zM97 177h1v1h-1zM97 178h1v1h-1zM97 179h1v1h-1zM97 180h1v1h-1zM97 182h1v1h-1zM97 183h1v1h-1zM97 185h1v1h-1zM97 187h1v1h-1zM97 195h1v1h-1zM97 199h1v1h-1zM97 200h1v1h-1zM97 201h1v1h-1zM97 202h1v1h-1zM97 204h1v1h-1zM97 206h1v1h-1zM97 207h1v1h-1zM97 208h1v1h-1zM97 209h1v1h-1zM97 210h1v1h-1zM97 214h1v1h-1zM97 218h1v1h-1zM97 220h1v1h-1zM97 221h1v1h-1zM97 222h1v1h-1zM97 223h1v1h-1zM97 227h1v1h-1zM97 229h1v1h-1zM97 238h1v1h-1zM98 150h1v1h-1zM98 153h1v1h-1zM98 155h1v1h-1zM98 156h1v1h-1zM98 157h1v1h-1zM98 159h1v1h-1zM98 163h1v1h-1zM98 164h1v1h-1zM98 165h1v1h-1zM98 166h1v1h-1zM98 167h1v1h-1zM98 168h1v1h-1zM98 169h1v1h-1zM98 170h1v1h-1zM98 171h1v1h-1zM98 172h1v1h-1zM98 173h1v1h-1zM98 174h1v1h-1zM98 175h1v1h-1zM98 176h1v1h-1zM98 177h1v1h-1zM98 178h1v1h-1zM98 179h1v1h-1zM98 180h1v1h-1zM98 186h1v1h-1zM98 204h1v1h-1zM98 208h1v1h-1zM98 213h1v1h-1zM98 215h1v1h-1zM98 217h1v1h-1zM98 218h1v1h-1zM98 219h1v1h-1zM98 225h1v1h-1zM98 230h1v1h-1zM98 234h1v1h-1zM98 235h1v1h-1zM98 236h1v1h-1zM99 151h1v1h-1zM99 153h1v1h-1zM99 154h1v1h-1zM99 155h1v1h-1zM99 156h1v1h-1zM99 157h1v1h-1zM99 158h1v1h-1zM99 161h1v1h-1zM99 164h1v1h-1zM99 165h1v1h-1zM99 166h1v1h-1zM99 167h1v1h-1zM99 168h1v1h-1zM99 169h1v1h-1zM99 170h1v1h-1zM99 172h1v1h-1zM99 173h1v1h-1zM99 175h1v1h-1zM99 178h1v1h-1zM99 179h1v1h-1zM99 180h1v1h-1zM99 184h1v1h-1zM99 192h1v1h-1zM99 195h1v1h-1zM99 198h1v1h-1zM99 202h1v1h-1zM99 204h1v1h-1zM99 214h1v1h-1zM99 215h1v1h-1zM99 217h1v1h-1zM99 218h1v1h-1zM99 220h1v1h-1zM99 221h1v1h-1zM99 222h1v1h-1zM99 223h1v1h-1zM99 225h1v1h-1zM99 226h1v1h-1zM99 229h1v1h-1zM99 230h1v1h-1zM100 150h1v1h-1zM100 151h1v1h-1zM100 152h1v1h-1zM100 156h1v1h-1zM100 158h1v1h-1zM100 161h1v1h-1zM100 162h1v1h-1zM100 164h1v1h-1zM100 166h1v1h-1zM100 167h1v1h-1zM100 168h1v1h-1zM100 169h1v1h-1zM100 170h1v1h-1zM100 171h1v1h-1zM100 172h1v1h-1zM100 173h1v1h-1zM100 174h1v1h-1zM100 175h1v1h-1zM100 176h1v1h-1zM100 178h1v1h-1zM100 179h1v1h-1zM100 180h1v1h-1zM100 183h1v1h-1zM100 186h1v1h-1zM100 190h1v1h-1zM100 192h1v1h-1zM100 195h1v1h-1zM100 207h1v1h-1zM100 208h1v1h-1zM100 212h1v1h-1zM100 215h1v1h-1zM100 219h1v1h-1zM100 223h1v1h-1zM100 224h1v1h-1zM100 227h1v1h-1zM100 229h1v1h-1zM100 232h1v1h-1zM100 234h1v1h-1zM100 235h1v1h-1zM101 156h1v1h-1zM101 160h1v1h-1zM101 166h1v1h-1zM101 167h1v1h-1zM101 171h1v1h-1zM101 172h1v1h-1zM101 173h1v1h-1zM101 175h1v1h-1zM101 176h1v1h-1zM101 179h1v1h-1zM101 180h1v1h-1zM101 189h1v1h-1zM101 190h1v1h-1zM101 191h1v1h-1zM101 192h1v1h-1zM101 194h1v1h-1zM101 209h1v1h-1zM101 210h1v1h-1zM101 212h1v1h-1zM101 221h1v1h-1zM101 222h1v1h-1zM101 224h1v1h-1zM101 225h1v1h-1zM101 227h1v1h-1zM101 228h1v1h-1zM101 232h1v1h-1zM101 234h1v1h-1zM102 154h1v1h-1zM102 156h1v1h-1zM102 158h1v1h-1zM102 159h1v1h-1zM102 160h1v1h-1zM102 162h1v1h-1zM102 166h1v1h-1zM102 168h1v1h-1zM102 173h1v1h-1zM102 175h1v1h-1zM102 177h1v1h-1zM102 179h1v1h-1zM102 185h1v1h-1zM102 190h1v1h-1zM102 193h1v1h-1zM102 194h1v1h-1zM102 197h1v1h-1zM102 200h1v1h-1zM102 202h1v1h-1zM102 203h1v1h-1zM102 206h1v1h-1zM102 208h1v1h-1zM102 210h1v1h-1zM102 218h1v1h-1zM102 222h1v1h-1zM102 223h1v1h-1zM102 227h1v1h-1zM102 228h1v1h-1zM102 229h1v1h-1zM102 234h1v1h-1zM103 153h1v1h-1zM103 156h1v1h-1zM103 158h1v1h-1zM103 169h1v1h-1zM103 178h1v1h-1zM103 187h1v1h-1zM103 188h1v1h-1zM103 189h1v1h-1zM103 194h1v1h-1zM103 195h1v1h-1zM103 196h1v1h-1zM103 204h1v1h-1zM103 205h1v1h-1zM103 208h1v1h-1zM103 210h1v1h-1zM103 212h1v1h-1zM103 213h1v1h-1zM103 214h1v1h-1zM103 218h1v1h-1zM103 219h1v1h-1zM103 223h1v1h-1zM103 227h1v1h-1zM103 229h1v1h-1zM104 159h1v1h-1zM104 167h1v1h-1zM104 179h1v1h-1zM104 181h1v1h-1zM104 189h1v1h-1zM104 192h1v1h-1zM104 194h1v1h-1zM104 201h1v1h-1zM104 203h1v1h-1zM104 205h1v1h-1zM104 207h1v1h-1zM104 209h1v1h-1zM104 210h1v1h-1zM104 213h1v1h-1zM104 214h1v1h-1zM104 217h1v1h-1zM104 218h1v1h-1zM104 219h1v1h-1zM104 220h1v1h-1zM104 221h1v1h-1zM104 222h1v1h-1zM104 223h1v1h-1zM104 225h1v1h-1zM104 226h1v1h-1zM104 227h1v1h-1zM105 163h1v1h-1zM105 176h1v1h-1zM105 189h1v1h-1zM105 192h1v1h-1zM105 198h1v1h-1zM105 204h1v1h-1zM105 207h1v1h-1zM105 209h1v1h-1zM105 210h1v1h-1zM105 213h1v1h-1zM105 215h1v1h-1zM105 216h1v1h-1zM105 220h1v1h-1zM105 221h1v1h-1zM105 222h1v1h-1zM105 223h1v1h-1zM105 224h1v1h-1zM105 225h1v1h-1zM105 226h1v1h-1zM105 227h1v1h-1zM105 228h1v1h-1zM105 231h1v1h-1zM106 164h1v1h-1zM106 170h1v1h-1zM106 187h1v1h-1zM106 188h1v1h-1zM106 190h1v1h-1zM106 191h1v1h-1zM106 192h1v1h-1zM106 193h1v1h-1zM106 202h1v1h-1zM106 203h1v1h-1zM106 205h1v1h-1zM106 208h1v1h-1zM106 211h1v1h-1zM106 212h1v1h-1zM106 216h1v1h-1zM106 217h1v1h-1zM106 219h1v1h-1zM106 221h1v1h-1zM106 222h1v1h-1zM106 223h1v1h-1zM106 224h1v1h-1zM106 225h1v1h-1zM106 226h1v1h-1zM106 227h1v1h-1zM106 228h1v1h-1zM106 229h1v1h-1zM106 230h1v1h-1zM107 184h1v1h-1zM107 185h1v1h-1zM107 187h1v1h-1zM107 189h1v1h-1zM107 192h1v1h-1zM107 193h1v1h-1zM107 194h1v1h-1zM107 196h1v1h-1zM107 197h1v1h-1zM107 200h1v1h-1zM107 202h1v1h-1zM107 206h1v1h-1zM107 211h1v1h-1zM107 212h1v1h-1zM107 213h1v1h-1zM107 216h1v1h-1zM107 217h1v1h-1zM107 218h1v1h-1zM107 219h1v1h-1zM107 220h1v1h-1zM107 221h1v1h-1zM107 222h1v1h-1zM107 223h1v1h-1zM107 225h1v1h-1zM107 226h1v1h-1zM107 227h1v1h-1zM107 228h1v1h-1zM107 230h1v1h-1zM108 152h1v1h-1zM108 168h1v1h-1zM108 170h1v1h-1zM108 173h1v1h-1zM108 184h1v1h-1zM108 187h1v1h-1zM108 189h1v1h-1zM108 190h1v1h-1zM108 192h1v1h-1zM108 193h1v1h-1zM108 195h1v1h-1zM108 196h1v1h-1zM108 198h1v1h-1zM108 202h1v1h-1zM108 203h1v1h-1zM108 204h1v1h-1zM108 205h1v1h-1zM108 208h1v1h-1zM108 211h1v1h-1zM108 213h1v1h-1zM108 217h1v1h-1zM108 219h1v1h-1zM108 220h1v1h-1zM108 222h1v1h-1zM108 225h1v1h-1zM108 228h1v1h-1zM109 173h1v1h-1zM109 182h1v1h-1zM109 186h1v1h-1zM109 190h1v1h-1zM109 191h1v1h-1zM109 192h1v1h-1zM109 193h1v1h-1zM109 195h1v1h-1zM109 196h1v1h-1zM109 202h1v1h-1zM109 206h1v1h-1zM109 207h1v1h-1zM109 211h1v1h-1zM109 216h1v1h-1zM109 217h1v1h-1zM109 220h1v1h-1zM109 221h1v1h-1zM109 222h1v1h-1zM109 223h1v1h-1zM109 224h1v1h-1zM109 225h1v1h-1zM109 226h1v1h-1zM109 227h1v1h-1zM109 228h1v1h-1zM110 175h1v1h-1zM110 180h1v1h-1zM110 187h1v1h-1zM110 191h1v1h-1zM110 195h1v1h-1zM110 197h1v1h-1zM110 198h1v1h-1zM110 201h1v1h-1zM110 202h1v1h-1zM110 203h1v1h-1zM110 204h1v1h-1zM110 205h1v1h-1zM110 208h1v1h-1zM110 210h1v1h-1zM110 215h1v1h-1zM110 216h1v1h-1zM110 218h1v1h-1zM110 219h1v1h-1zM110 220h1v1h-1zM110 221h1v1h-1zM110 224h1v1h-1zM110 225h1v1h-1zM110 226h1v1h-1zM111 178h1v1h-1zM111 180h1v1h-1zM111 183h1v1h-1zM111 184h1v1h-1zM111 187h1v1h-1zM111 188h1v1h-1zM111 191h1v1h-1zM111 193h1v1h-1zM111 195h1v1h-1zM111 203h1v1h-1zM111 210h1v1h-1zM111 214h1v1h-1zM111 215h1v1h-1zM111 216h1v1h-1zM111 218h1v1h-1zM111 220h1v1h-1zM111 221h1v1h-1zM111 223h1v1h-1zM111 224h1v1h-1zM111 225h1v1h-1zM111 226h1v1h-1zM112 185h1v1h-1zM112 191h1v1h-1zM112 197h1v1h-1zM112 199h1v1h-1zM112 203h1v1h-1zM112 204h1v1h-1zM112 212h1v1h-1zM112 215h1v1h-1zM112 219h1v1h-1zM112 224h1v1h-1zM112 225h1v1h-1zM112 226h1v1h-1zM112 227h1v1h-1zM113 182h1v1h-1zM113 185h1v1h-1zM113 186h1v1h-1zM113 187h1v1h-1zM113 190h1v1h-1zM113 191h1v1h-1zM113 193h1v1h-1zM113 194h1v1h-1zM113 195h1v1h-1zM113 196h1v1h-1zM113 197h1v1h-1zM113 198h1v1h-1zM113 199h1v1h-1zM113 200h1v1h-1zM113 209h1v1h-1zM113 213h1v1h-1zM113 214h1v1h-1zM113 216h1v1h-1zM113 219h1v1h-1zM113 220h1v1h-1zM113 223h1v1h-1zM113 225h1v1h-1zM113 226h1v1h-1zM113 227h1v1h-1zM114 179h1v1h-1zM114 185h1v1h-1zM114 188h1v1h-1zM114 192h1v1h-1zM114 193h1v1h-1zM114 194h1v1h-1zM114 195h1v1h-1zM114 197h1v1h-1zM114 198h1v1h-1zM114 199h1v1h-1zM114 200h1v1h-1zM114 203h1v1h-1zM114 219h1v1h-1zM114 221h1v1h-1zM114 222h1v1h-1zM114 223h1v1h-1zM114 226h1v1h-1zM114 227h1v1h-1zM115 169h1v1h-1zM115 186h1v1h-1zM115 187h1v1h-1zM115 188h1v1h-1zM115 189h1v1h-1zM115 190h1v1h-1zM115 193h1v1h-1zM115 194h1v1h-1zM115 195h1v1h-1zM115 197h1v1h-1zM115 198h1v1h-1zM115 199h1v1h-1zM115 201h1v1h-1zM115 202h1v1h-1zM115 203h1v1h-1zM115 210h1v1h-1zM115 212h1v1h-1zM115 213h1v1h-1zM115 217h1v1h-1zM115 221h1v1h-1zM115 223h1v1h-1zM115 225h1v1h-1zM115 226h1v1h-1zM116 167h1v1h-1zM116 173h1v1h-1zM116 185h1v1h-1zM116 186h1v1h-1zM116 187h1v1h-1zM116 189h1v1h-1zM116 193h1v1h-1zM116 194h1v1h-1zM116 195h1v1h-1zM116 196h1v1h-1zM116 197h1v1h-1zM116 199h1v1h-1zM116 200h1v1h-1zM116 202h1v1h-1zM116 209h1v1h-1zM116 220h1v1h-1zM116 223h1v1h-1zM116 226h1v1h-1zM116 227h1v1h-1zM117 164h1v1h-1zM117 196h1v1h-1zM117 197h1v1h-1zM117 198h1v1h-1zM117 202h1v1h-1zM117 203h1v1h-1zM117 205h1v1h-1zM117 208h1v1h-1zM117 215h1v1h-1zM117 222h1v1h-1zM117 223h1v1h-1zM117 225h1v1h-1zM117 226h1v1h-1zM117 227h1v1h-1zM118 163h1v1h-1zM118 168h1v1h-1zM118 179h1v1h-1zM118 186h1v1h-1zM118 193h1v1h-1zM118 194h1v1h-1zM118 195h1v1h-1zM118 198h1v1h-1zM118 204h1v1h-1zM118 211h1v1h-1zM118 219h1v1h-1zM118 222h1v1h-1zM118 224h1v1h-1zM118 225h1v1h-1zM118 226h1v1h-1zM118 227h1v1h-1zM119 168h1v1h-1zM119 169h1v1h-1zM119 170h1v1h-1zM119 171h1v1h-1zM119 172h1v1h-1zM119 185h1v1h-1zM119 194h1v1h-1zM119 195h1v1h-1zM119 196h1v1h-1zM119 202h1v1h-1zM119 215h1v1h-1zM119 217h1v1h-1zM119 220h1v1h-1zM119 221h1v1h-1zM119 223h1v1h-1zM119 224h1v1h-1zM119 225h1v1h-1zM119 227h1v1h-1zM120 167h1v1h-1zM120 170h1v1h-1zM120 172h1v1h-1zM120 180h1v1h-1zM120 184h1v1h-1zM120 186h1v1h-1zM120 194h1v1h-1zM120 197h1v1h-1zM120 198h1v1h-1zM120 220h1v1h-1zM120 225h1v1h-1zM120 226h1v1h-1zM121 168h1v1h-1zM121 171h1v1h-1zM121 172h1v1h-1zM121 173h1v1h-1zM121 176h1v1h-1zM121 182h1v1h-1zM121 198h1v1h-1zM121 204h1v1h-1zM121 209h1v1h-1zM121 217h1v1h-1zM121 225h1v1h-1zM121 226h1v1h-1zM122 172h1v1h-1zM122 173h1v1h-1zM122 176h1v1h-1zM122 177h1v1h-1zM122 185h1v1h-1zM122 191h1v1h-1zM122 192h1v1h-1zM122 197h1v1h-1zM122 198h1v1h-1zM122 201h1v1h-1zM122 208h1v1h-1zM122 219h1v1h-1zM122 221h1v1h-1zM122 222h1v1h-1zM122 223h1v1h-1zM122 225h1v1h-1zM122 229h1v1h-1zM123 187h1v1h-1zM123 191h1v1h-1zM123 197h1v1h-1zM123 203h1v1h-1zM123 216h1v1h-1zM123 218h1v1h-1zM123 220h1v1h-1zM123 224h1v1h-1zM124 175h1v1h-1zM124 211h1v1h-1zM124 224h1v1h-1zM124 228h1v1h-1zM125 170h1v1h-1zM125 172h1v1h-1zM125 175h1v1h-1zM125 177h1v1h-1zM125 179h1v1h-1zM125 187h1v1h-1zM125 205h1v1h-1zM125 212h1v1h-1zM125 224h1v1h-1zM126 172h1v1h-1zM126 174h1v1h-1zM126 175h1v1h-1zM126 215h1v1h-1zM126 218h1v1h-1zM127 169h1v1h-1zM127 185h1v1h-1zM127 196h1v1h-1zM127 202h1v1h-1zM127 207h1v1h-1zM127 210h1v1h-1zM127 211h1v1h-1zM128 163h1v1h-1zM128 165h1v1h-1zM128 177h1v1h-1zM128 180h1v1h-1zM128 186h1v1h-1zM128 188h1v1h-1zM128 211h1v1h-1zM128 221h1v1h-1zM128 222h1v1h-1zM129 166h1v1h-1zM129 179h1v1h-1zM129 191h1v1h-1zM129 211h1v1h-1zM129 219h1v1h-1zM129 221h1v1h-1zM130 178h1v1h-1zM130 193h1v1h-1zM130 194h1v1h-1zM130 209h1v1h-1zM130 210h1v1h-1zM130 215h1v1h-1zM130 223h1v1h-1zM131 192h1v1h-1zM131 208h1v1h-1zM132 210h1v1h-1zM133 183h1v1h-1zM133 199h1v1h-1zM134 211h1v1h-1zM134 217h1v1h-1zM135 196h1v1h-1zM135 201h1v1h-1zM135 211h1v1h-1zM135 214h1v1h-1zM136 208h1v1h-1zM136 209h1v1h-1zM137 187h1v1h-1zM137 210h1v1h-1zM137 217h1v1h-1zM137 220h1v1h-1zM138 211h1v1h-1zM139 172h1v1h-1zM140 173h1v1h-1zM140 209h1v1h-1zM140 215h1v1h-1zM141 191h1v1h-1zM141 200h1v1h-1zM141 205h1v1h-1zM141 213h1v1h-1zM142 201h1v1h-1zM142 222h1v1h-1zM143 205h1v1h-1zM144 200h1v1h-1zM144 201h1v1h-1zM144 224h1v1h-1zM147 227h1v1h-1zM148 218h1v1h-1zM148 232h1v1h-1zM150 196h1v1h-1zM151 222h1v1h-1zM151 227h1v1h-1zM151 231h1v1h-1zM151 232h1v1h-1zM151 235h1v1h-1zM151 238h1v1h-1zM152 219h1v1h-1zM152 239h1v1h-1zM152 242h1v1h-1zM153 236h1v1h-1zM154 233h1v1h-1z" fill="#2020ee"/>
<path d="M27 174h1v1h-1zM29 182h1v1h-1zM29 185h1v1h-1zM30 187h1v1h-1zM31 188h1v1h-1zM32 187h1v1h-1zM33 187h1v1h-1zM34 164h1v1h-1zM35 173h1v1h-1zM35 191h1v1h-1zM36 161h1v1h-1zM36 163h1v1h-1zM37 169h1v1h-1zM38 181h1v1h-1zM40 150h1v1h-1zM42 157h1v1h-1zM42 160h1v1h-1zM43 160h1v1h-1zM47 199h1v1h-1zM49 154h1v1h-1zM49 196h1v1h-1zM50 158h1v1h-1zM51 172h1v1h-1zM51 193h1v1h-1zM51 198h1v1h-1zM52 151h1v1h-1zM52 158h1v1h-1zM53 152h1v1h-1zM53 159h1v1h-1zM53 179h1v1h-1zM54 153h1v1h-1zM54 198h1v1h-1zM56 154h1v1h-1zM56 197h1v1h-1zM56 205h1v1h-1zM57 151h1v1h-1zM58 157h1v1h-1zM59 155h1v1h-1zM59 159h1v1h-1zM60 155h1v1h-1zM60 157h1v1h-1zM60 159h1v1h-1zM60 160h1v1h-1zM60 190h1v1h-1zM61 153h1v1h-1zM61 158h1v1h-1zM61 160h1v1h-1zM61 207h1v1h-1zM63 152h1v1h-1zM63 158h1v1h-1zM63 172h1v1h-1zM64 159h1v1h-1zM64 160h1v1h-1zM65 155h1v1h-1zM65 162h1v1h-1zM65 171h1v1h-1zM65 208h1v1h-1zM66 194h1v1h-1zM66 218h1v1h-1zM67 157h1v1h-1zM67 161h1v1h-1zM67 186h1v1h-1zM67 207h1v1h-1zM67 208h1v1h-1zM67 212h1v1h-1zM68 151h1v1h-1zM68 159h1v1h-1zM68 194h1v1h-1zM68 210h1v1h-1zM69 153h1v1h-1zM69 156h1v1h-1zM69 161h1v1h-1zM69 164h1v1h-1zM69 169h1v1h-1zM69 209h1v1h-1zM69 210h1v1h-1zM69 213h1v1h-1zM70 150h1v1h-1zM70 151h1v1h-1zM70 154h1v1h-1zM70 155h1v1h-1zM70 158h1v1h-1zM70 204h1v1h-1zM70 211h1v1h-1zM71 157h1v1h-1zM71 194h1v1h-1zM71 208h1v1h-1zM71 211h1v1h-1zM71 214h1v1h-1zM72 158h1v1h-1zM72 165h1v1h-1zM72 193h1v1h-1zM72 196h1v1h-1zM72 201h1v1h-1zM72 204h1v1h-1zM72 212h1v1h-1zM73 154h1v1h-1zM73 159h1v1h-1zM73 160h1v1h-1zM73 197h1v1h-1zM73 217h1v1h-1zM73 219h1v1h-1zM74 150h1v1h-1zM74 157h1v1h-1zM74 158h1v1h-1zM74 207h1v1h-1zM74 209h1v1h-1zM74 215h1v1h-1zM75 156h1v1h-1zM75 162h1v1h-1zM75 166h1v1h-1zM75 192h1v1h-1zM75 196h1v1h-1zM75 198h1v1h-1zM75 208h1v1h-1zM75 209h1v1h-1zM75 210h1v1h-1zM76 153h1v1h-1zM76 160h1v1h-1zM76 161h1v1h-1zM76 192h1v1h-1zM76 196h1v1h-1zM76 205h1v1h-1zM76 208h1v1h-1zM76 211h1v1h-1zM76 214h1v1h-1zM77 151h1v1h-1zM77 153h1v1h-1zM77 155h1v1h-1zM77 159h1v1h-1zM77 166h1v1h-1zM77 187h1v1h-1zM77 192h1v1h-1zM77 204h1v1h-1zM77 205h1v1h-1zM77 209h1v1h-1zM77 211h1v1h-1zM77 212h1v1h-1zM77 213h1v1h-1zM77 215h1v1h-1zM78 154h1v1h-1zM78 156h1v1h-1zM78 162h1v1h-1zM78 167h1v1h-1zM78 170h1v1h-1zM78 181h1v1h-1zM78 196h1v1h-1zM78 199h1v1h-1zM78 202h1v1h-1zM78 207h1v1h-1zM78 208h1v1h-1zM78 209h1v1h-1zM78 210h1v1h-1zM79 155h1v1h-1zM79 157h1v1h-1zM79 162h1v1h-1zM79 165h1v1h-1zM79 169h1v1h-1zM79 170h1v1h-1zM79 183h1v1h-1zM79 199h1v1h-1zM79 202h1v1h-1zM79 205h1v1h-1zM79 209h1v1h-1zM79 212h1v1h-1zM79 213h1v1h-1zM80 150h1v1h-1zM80 155h1v1h-1zM80 160h1v1h-1zM80 161h1v1h-1zM80 168h1v1h-1zM80 181h1v1h-1zM80 204h1v1h-1zM80 212h1v1h-1zM81 153h1v1h-1zM81 154h1v1h-1zM81 155h1v1h-1zM81 156h1v1h-1zM81 158h1v1h-1zM81 159h1v1h-1zM81 160h1v1h-1zM81 162h1v1h-1zM81 163h1v1h-1zM81 164h1v1h-1zM81 166h1v1h-1zM81 167h1v1h-1zM81 176h1v1h-1zM81 187h1v1h-1zM81 206h1v1h-1zM82 150h1v1h-1zM82 162h1v1h-1zM82 165h1v1h-1zM82 167h1v1h-1zM82 170h1v1h-1zM82 172h1v1h-1zM82 174h1v1h-1zM82 175h1v1h-1zM82 183h1v1h-1zM82 200h1v1h-1zM82 204h1v1h-1zM82 211h1v1h-1zM83 154h1v1h-1zM83 156h1v1h-1zM83 158h1v1h-1zM83 167h1v1h-1zM83 170h1v1h-1zM83 171h1v1h-1zM83 173h1v1h-1zM83 174h1v1h-1zM83 178h1v1h-1zM83 192h1v1h-1zM83 222h1v1h-1zM84 150h1v1h-1zM84 153h1v1h-1zM84 154h1v1h-1zM84 158h1v1h-1zM84 164h1v1h-1zM84 171h1v1h-1zM84 172h1v1h-1zM84 175h1v1h-1zM84 177h1v1h-1zM84 178h1v1h-1zM84 180h1v1h-1zM84 181h1v1h-1zM85 151h1v1h-1zM85 157h1v1h-1zM85 158h1v1h-1zM85 159h1v1h-1zM85 163h1v1h-1zM85 169h1v1h-1zM85 172h1v1h-1zM85 173h1v1h-1zM85 177h1v1h-1zM85 182h1v1h-1zM85 183h1v1h-1zM85 211h1v1h-1zM85 221h1v1h-1zM86 154h1v1h-1zM86 160h1v1h-1zM86 162h1v1h-1zM86 163h1v1h-1zM86 164h1v1h-1zM86 168h1v1h-1zM86 171h1v1h-1zM86 173h1v1h-1zM86 174h1v1h-1zM86 184h1v1h-1zM86 215h1v1h-1zM87 150h1v1h-1zM87 161h1v1h-1zM87 169h1v1h-1zM87 173h1v1h-1zM87 175h1v1h-1zM87 181h1v1h-1zM87 191h1v1h-1zM87 192h1v1h-1zM88 156h1v1h-1zM88 162h1v1h-1zM88 169h1v1h-1zM88 173h1v1h-1zM88 174h1v1h-1zM88 178h1v1h-1zM88 180h1v1h-1zM88 190h1v1h-1zM88 191h1v1h-1zM88 192h1v1h-1zM88 196h1v1h-1zM88 204h1v1h-1zM89 152h1v1h-1zM89 155h1v1h-1zM89 159h1v1h-1zM89 160h1v1h-1zM89 162h1v1h-1zM89 163h1v1h-1zM89 164h1v1h-1zM89 167h1v1h-1zM89 168h1v1h-1zM89 170h1v1h-1zM89 171h1v1h-1zM89 182h1v1h-1zM90 153h1v1h-1zM90 154h1v1h-1zM90 158h1v1h-1zM90 160h1v1h-1zM90 161h1v1h-1zM90 164h1v1h-1zM90 167h1v1h-1zM90 169h1v1h-1zM90 173h1v1h-1zM90 174h1v1h-1zM90 181h1v1h-1zM90 215h1v1h-1zM91 152h1v1h-1zM91 153h1v1h-1zM91 156h1v1h-1zM91 158h1v1h-1zM91 160h1v1h-1zM91 161h1v1h-1zM91 166h1v1h-1zM91 170h1v1h-1zM91 176h1v1h-1zM91 177h1v1h-1zM91 193h1v1h-1zM91 206h1v1h-1zM92 155h1v1h-1zM92 156h1v1h-1zM92 162h1v1h-1zM92 163h1v1h-1zM92 165h1v1h-1zM92 167h1v1h-1zM92 168h1v1h-1zM92 170h1v1h-1zM92 175h1v1h-1zM92 176h1v1h-1zM92 181h1v1h-1zM92 183h1v1h-1zM92 216h1v1h-1zM92 219h1v1h-1zM92 220h1v1h-1zM92 233h1v1h-1zM93 164h1v1h-1zM93 167h1v1h-1zM93 168h1v1h-1zM93 171h1v1h-1zM93 172h1v1h-1zM93 176h1v1h-1zM93 178h1v1h-1zM93 180h1v1h-1zM93 181h1v1h-1zM93 193h1v1h-1zM93 221h1v1h-1zM94 155h1v1h-1zM94 157h1v1h-1zM94 159h1v1h-1zM94 167h1v1h-1zM94 173h1v1h-1zM94 175h1v1h-1zM94 176h1v1h-1zM94 179h1v1h-1zM94 180h1v1h-1zM94 204h1v1h-1zM94 212h1v1h-1zM94 214h1v1h-1zM94 230h1v1h-1zM95 150h1v1h-1zM95 153h1v1h-1zM95 159h1v1h-1zM95 162h1v1h-1zM95 166h1v1h-1zM95 168h1v1h-1zM95 169h1v1h-1zM95 171h1v1h-1zM95 173h1v1h-1zM95 178h1v1h-1zM95 180h1v1h-1zM95 188h1v1h-1zM95 195h1v1h-1zM95 219h1v1h-1zM95 221h1v1h-1zM95 225h1v1h-1zM96 150h1v1h-1zM96 155h1v1h-1zM96 157h1v1h-1zM96 159h1v1h-1zM96 162h1v1h-1zM96 163h1v1h-1zM96 165h1v1h-1zM96 166h1v1h-1zM96 167h1v1h-1zM96 171h1v1h-1zM96 172h1v1h-1zM96 179h1v1h-1zM96 183h1v1h-1zM96 185h1v1h-1zM96 205h1v1h-1zM96 218h1v1h-1zM97 152h1v1h-1zM97 153h1v1h-1zM97 164h1v1h-1zM97 166h1v1h-1zM97 167h1v1h-1zM97 169h1v1h-1zM97 170h1v1h-1zM97 171h1v1h-1zM97 178h1v1h-1zM97 179h1v1h-1zM97 180h1v1h-1zM97 187h1v1h-1zM98 157h1v1h-1zM98 164h1v1h-1zM98 166h1v1h-1zM98 168h1v1h-1zM98 171h1v1h-1zM98 172h1v1h-1zM98 173h1v1h-1zM98 175h1v1h-1zM98 190h1v1h-1zM98 208h1v1h-1zM98 215h1v1h-1zM98 226h1v1h-1zM99 156h1v1h-1zM99 158h1v1h-1zM99 159h1v1h-1zM99 162h1v1h-1zM99 163h1v1h-1zM99 167h1v1h-1zM99 168h1v1h-1zM99 170h1v1h-1zM99 175h1v1h-1zM99 177h1v1h-1zM99 179h1v1h-1zM99 227h1v1h-1zM99 241h1v1h-1zM100 151h1v1h-1zM100 163h1v1h-1zM100 166h1v1h-1zM100 169h1v1h-1zM100 173h1v1h-1zM100 195h1v1h-1zM100 220h1v1h-1zM100 229h1v1h-1zM101 157h1v1h-1zM101 163h1v1h-1zM101 167h1v1h-1zM101 182h1v1h-1zM101 201h1v1h-1zM101 208h1v1h-1zM101 229h1v1h-1zM102 156h1v1h-1zM102 157h1v1h-1zM103 153h1v1h-1zM103 156h1v1h-1zM103 164h1v1h-1zM103 180h1v1h-1zM103 189h1v1h-1zM103 194h1v1h-1zM103 197h1v1h-1zM103 232h1v1h-1zM104 186h1v1h-1zM104 204h1v1h-1zM104 228h1v1h-1zM105 205h1v1h-1zM105 222h1v1h-1zM105 223h1v1h-1zM105 224h1v1h-1zM106 194h1v1h-1zM106 201h1v1h-1zM106 203h1v1h-1zM106 210h1v1h-1zM106 216h1v1h-1zM106 220h1v1h-1zM106 222h1v1h-1zM106 223h1v1h-1zM107 183h1v1h-1zM107 187h1v1h-1zM107 193h1v1h-1zM107 197h1v1h-1zM107 214h1v1h-1zM107 221h1v1h-1zM107 226h1v1h-1zM107 228h1v1h-1zM108 187h1v1h-1zM108 213h1v1h-1zM108 217h1v1h-1zM108 219h1v1h-1zM108 228h1v1h-1zM109 170h1v1h-1zM109 193h1v1h-1zM109 195h1v1h-1zM109 225h1v1h-1zM110 186h1v1h-1zM110 191h1v1h-1zM110 223h1v1h-1zM110 225h1v1h-1zM111 187h1v1h-1zM111 226h1v1h-1zM111 227h1v1h-1zM112 185h1v1h-1zM112 196h1v1h-1zM112 203h1v1h-1zM112 204h1v1h-1zM113 185h1v1h-1zM113 186h1v1h-1zM113 187h1v1h-1zM113 190h1v1h-1zM113 203h1v1h-1zM113 211h1v1h-1zM113 213h1v1h-1zM113 225h1v1h-1zM113 226h1v1h-1zM114 180h1v1h-1zM114 189h1v1h-1zM114 204h1v1h-1zM114 215h1v1h-1zM114 218h1v1h-1zM115 189h1v1h-1zM115 190h1v1h-1zM115 199h1v1h-1zM115 201h1v1h-1zM115 218h1v1h-1zM116 170h1v1h-1zM116 186h1v1h-1zM116 194h1v1h-1zM116 198h1v1h-1zM116 199h1v1h-1zM116 209h1v1h-1zM116 217h1v1h-1zM116 225h1v1h-1zM117 201h1v1h-1zM117 209h1v1h-1zM117 218h1v1h-1zM117 222h1v1h-1zM117 225h1v1h-1zM117 227h1v1h-1zM118 205h1v1h-1zM118 216h1v1h-1zM118 227h1v1h-1zM119 168h1v1h-1zM119 227h1v1h-1zM120 197h1v1h-1zM120 225h1v1h-1zM120 226h1v1h-1zM122 174h1v1h-1zM122 199h1v1h-1zM122 208h1v1h-1zM122 223h1v1h-1zM123 193h1v1h-1zM123 219h1v1h-1zM123 221h1v1h-1zM124 170h1v1h-1zM124 185h1v1h-1zM125 188h1v1h-1zM126 219h1v1h-1zM127 211h1v1h-1zM127 220h1v1h-1zM128 209h1v1h-1zM129 165h1v1h-1zM129 184h1v1h-1zM129 205h1v1h-1zM129 217h1v1h-1zM132 197h1v1h-1zM133 210h1v1h-1zM136 212h1v1h-1zM140 195h1v1h-1zM151 222h1v1h-1z" fill="#4848e2"/>
</g>
<g filter="url(#bl3)">
<text x="-0.4" y="11.3" font-size="8.6" text-anchor="start" fill="#111" stroke="#111" stroke-width="0.15">(a)</text>
<text x="-0.4" y="137.0" font-size="8.6" text-anchor="start" fill="#111" stroke="#111" stroke-width="0.15">(b)</text>
<text x="52.7" y="9.1" font-size="8.0" text-anchor="start" fill="#111" stroke="#111" stroke-width="0.15">[CP] response to PDSI (mg g<tspan dy="-3" font-size="5.5">-1</tspan><tspan dy="3">)</tspan></text>
<text x="40.9" y="140.3" font-size="8.0" text-anchor="start" fill="#111" stroke="#111" stroke-width="0.15">[CP] trajectory over time (mg g<tspan dy="-3" font-size="5.5">-1</tspan><tspan dy="3"> y</tspan><tspan dy="-3" font-size="5.5">-1</tspan><tspan dy="3">)</tspan></text>
<rect x="211.8" y="17.7" width="8.6" height="85.3" rx="0.8" fill="url(#cb)"/>
<text x="223.8" y="25.9" font-size="7.8" text-anchor="start" fill="#111" stroke="#111" stroke-width="0.15">+3</text>
<text x="223.8" y="101.4" font-size="7.8" text-anchor="start" fill="#111" stroke="#111" stroke-width="0.15">-3</text>
<rect x="211.8" y="148.5" width="8.6" height="85.2" rx="0.8" fill="url(#cb)"/>
<text x="223.8" y="156.7" font-size="7.8" text-anchor="start" fill="#111" stroke="#111" stroke-width="0.15">+2</text>
<text x="223.8" y="232.1" font-size="7.8" text-anchor="start" fill="#111" stroke="#111" stroke-width="0.15">-2</text>
<rect x="277.6" y="2.1" width="122.8" height="97.1" fill="none" stroke="#aaa" stroke-width="0.9"/>
<path d="M277.6 3.1V99.2M277.6 14.6h-2.6M277.6 32.3h-2.6M277.6 50.0h-2.6M277.6 67.7h-2.6M277.6 85.4h-2.6M277.6 96.0h-1.3M277.6 92.5h-1.3M277.6 88.9h-1.3M277.6 85.4h-1.3M277.6 81.9h-1.3M277.6 78.3h-1.3M277.6 74.8h-1.3M277.6 71.2h-1.3M277.6 67.7h-1.3M277.6 64.2h-1.3M277.6 60.6h-1.3M277.6 57.1h-1.3M277.6 53.5h-1.3M277.6 50.0h-1.3M277.6 46.5h-1.3M277.6 42.9h-1.3M277.6 39.4h-1.3M277.6 35.8h-1.3M277.6 32.3h-1.3M277.6 28.8h-1.3M277.6 25.2h-1.3M277.6 21.7h-1.3M277.6 18.1h-1.3M277.6 14.6h-1.3M277.6 11.1h-1.3M277.6 7.5h-1.3M277.6 4.0h-1.3" stroke="#444" stroke-width="0.6" fill="none"/>
<path d="M281.8 99.2v1.2M287.2 99.2v2.3M292.6 99.2v1.2M298.1 99.2v1.2M303.5 99.2v1.2M309.0 99.2v1.2M314.4 99.2v2.3M319.8 99.2v1.2M325.3 99.2v1.2M330.7 99.2v1.2M336.2 99.2v1.2M341.6 99.2v2.3M347.0 99.2v1.2M352.5 99.2v1.2M357.9 99.2v1.2M363.4 99.2v1.2M368.8 99.2v2.3M374.2 99.2v1.2M379.7 99.2v1.2M385.1 99.2v1.2M390.6 99.2v1.2M396.0 99.2v2.3" stroke="#555" stroke-width="0.6" fill="none"/>
<path d="M282.2 34.3L287.3 40.9L292.2 35.5L296.6 36.2L300.0 35.8L302.2 33.1L305.0 32.5L307.7 33.6L310.5 35.3L313.8 37.5L316.6 40.8L319.6 45.5L322.4 46.0L325.4 45.8L328.6 47.8L331.4 48.5L334.8 47.8L336.9 45.8L339.0 40.2L341.1 35.1L343.8 35.0L347.1 35.2L349.2 42.1L351.9 47.7L355.4 49.8L358.1 49.8L360.9 50.4L363.0 49.8L365.8 42.8L368.8 36.6L374.1 26.9L379.6 35.9L381.8 49.0L384.7 69.1L390.6 53.7L393.7 46.6L396.1 42.3" stroke="#aaa" stroke-width="0.7" fill="none" stroke-linejoin="round"/>
<path d="M277.6 33.8L400.4 52.3" stroke="#222" stroke-width="1.1" fill="none"/>
<path d="M281.8 30.4V32.8M281.0 30.4h1.6M281.0 32.8h1.6M287.2 45.9V48.3M286.4 45.9h1.6M286.4 48.3h1.6M292.6 27.3V29.7M291.8 27.3h1.6M291.8 29.7h1.6M298.1 40.5V42.9M297.3 40.5h1.6M297.3 42.9h1.6M303.5 28.5V30.9M302.7 28.5h1.6M302.7 30.9h1.6M309.0 34.4V36.8M308.2 34.4h1.6M308.2 36.8h1.6M314.4 34.2V36.6M313.6 34.2h1.6M313.6 36.6h1.6M319.8 48.8V51.2M319.0 48.8h1.6M319.0 51.2h1.6M325.3 40.9V43.3M324.5 40.9h1.6M324.5 43.3h1.6M330.7 48.2V50.6M329.9 48.2h1.6M329.9 50.6h1.6M336.2 50.4V52.8M335.4 50.4h1.6M335.4 52.8h1.6M341.6 30.3V32.7M340.8 30.3h1.6M340.8 32.7h1.6M347.0 32.0V34.4M346.2 32.0h1.6M346.2 34.4h1.6M352.5 51.4V53.8M351.7 51.4h1.6M351.7 53.8h1.6M357.9 45.1V47.5M357.1 45.1h1.6M357.1 47.5h1.6M363.4 52.2V54.6M362.6 52.2h1.6M362.6 54.6h1.6M368.8 35.3V37.7M368.0 35.3h1.6M368.0 37.7h1.6M374.2 24.1V26.5M373.4 24.1h1.6M373.4 26.5h1.6M379.7 34.7V37.1M378.9 34.7h1.6M378.9 37.1h1.6M385.1 80.6V83.0M384.3 80.6h1.6M384.3 83.0h1.6M390.6 52.5V54.9M389.8 52.5h1.6M389.8 54.9h1.6M396.0 41.3V43.7M395.2 41.3h1.6M395.2 43.7h1.6" stroke="#555" stroke-width="0.5" fill="none"/>
<path d="M280.8 30.6h2v2h-2zM286.2 46.1h2v2h-2zM291.6 27.5h2v2h-2zM297.1 40.7h2v2h-2zM302.5 28.7h2v2h-2zM308.0 34.6h2v2h-2zM313.4 34.4h2v2h-2zM318.8 49.0h2v2h-2zM324.3 41.1h2v2h-2zM329.7 48.4h2v2h-2zM335.2 50.6h2v2h-2zM340.6 30.5h2v2h-2zM346.0 32.2h2v2h-2zM351.5 51.6h2v2h-2zM356.9 45.3h2v2h-2zM362.4 52.4h2v2h-2zM367.8 35.5h2v2h-2zM373.2 24.3h2v2h-2zM378.7 34.9h2v2h-2zM384.1 80.8h2v2h-2zM389.6 52.7h2v2h-2zM395.0 41.5h2v2h-2z" fill="#111"/>
<text x="272.8" y="14.6" font-size="6.6" text-anchor="middle" fill="#111" stroke="#111" stroke-width="0.15" transform="rotate(-90 272.8 14.6)">4</text>
<text x="272.8" y="32.3" font-size="6.6" text-anchor="middle" fill="#111" stroke="#111" stroke-width="0.15" transform="rotate(-90 272.8 32.3)">2</text>
<text x="272.8" y="50.0" font-size="6.6" text-anchor="middle" fill="#111" stroke="#111" stroke-width="0.15" transform="rotate(-90 272.8 50.0)">0</text>
<text x="272.8" y="67.7" font-size="6.6" text-anchor="middle" fill="#111" stroke="#111" stroke-width="0.15" transform="rotate(-90 272.8 67.7)">&#8722;2</text>
<text x="272.8" y="85.4" font-size="6.6" text-anchor="middle" fill="#111" stroke="#111" stroke-width="0.15" transform="rotate(-90 272.8 85.4)">&#8722;4</text>
<text x="287.2" y="108.9" font-size="6.6" text-anchor="middle" fill="#111" stroke="#111" stroke-width="0.15">1995</text>
<text x="314.4" y="108.9" font-size="6.6" text-anchor="middle" fill="#111" stroke="#111" stroke-width="0.15">2000</text>
<text x="341.6" y="108.9" font-size="6.6" text-anchor="middle" fill="#111" stroke="#111" stroke-width="0.15">2005</text>
<text x="368.8" y="108.9" font-size="6.6" text-anchor="middle" fill="#111" stroke="#111" stroke-width="0.15">2010</text>
<text x="396.0" y="108.9" font-size="6.6" text-anchor="middle" fill="#111" stroke="#111" stroke-width="0.15">2015</text>
<text x="339.9" y="119.6" font-size="7.8" text-anchor="middle" fill="#111" stroke="#111" stroke-width="0.15">Year</text>
<text x="260.2" y="49.7" font-size="8.3" text-anchor="middle" fill="#111" stroke="#111" stroke-width="0.15" transform="rotate(-90 260.2 49.7)">PDSI</text>
<text x="241.3" y="11.1" font-size="8.4" text-anchor="start" fill="#111" stroke="#111" stroke-width="0.15">(c)</text>
<rect x="277.6" y="131.8" width="122.8" height="97.1" fill="none" stroke="#aaa" stroke-width="0.9"/>
<path d="M277.6 132.8V228.9M277.6 135.1h-2.6M277.6 157.6h-2.6M277.6 180.0h-2.6M277.6 202.5h-2.6M277.6 225.0h-2.6M277.6 135.1h-1.3M277.6 139.6h-1.3M277.6 144.1h-1.3M277.6 148.6h-1.3M277.6 153.1h-1.3M277.6 157.6h-1.3M277.6 162.0h-1.3M277.6 166.5h-1.3M277.6 171.0h-1.3M277.6 175.5h-1.3M277.6 180.0h-1.3M277.6 184.5h-1.3M277.6 189.0h-1.3M277.6 193.5h-1.3M277.6 198.0h-1.3M277.6 202.4h-1.3M277.6 206.9h-1.3M277.6 211.4h-1.3M277.6 215.9h-1.3M277.6 220.4h-1.3M277.6 224.9h-1.3" stroke="#444" stroke-width="0.6" fill="none"/>
<path d="M281.8 228.9v1.2M287.2 228.9v2.3M292.6 228.9v1.2M298.1 228.9v1.2M303.5 228.9v1.2M309.0 228.9v1.2M314.4 228.9v2.3M319.8 228.9v1.2M325.3 228.9v1.2M330.7 228.9v1.2M336.2 228.9v1.2M341.6 228.9v2.3M347.0 228.9v1.2M352.5 228.9v1.2M357.9 228.9v1.2M363.4 228.9v1.2M368.8 228.9v2.3M374.2 228.9v1.2M379.7 228.9v1.2M385.1 228.9v1.2M390.6 228.9v1.2M396.0 228.9v2.3" stroke="#555" stroke-width="0.6" fill="none"/>
<path d="M283.0 162.1L286.9 162.4L290.1 163.3L292.2 171.3L294.4 182.0L295.8 183.8L299.3 185.6L304.7 179.3L310.0 171.3L315.0 175.3L320.9 175.7L325.8 175.3L331.8 177.7L335.7 181.7L337.7 182.7L342.7 183.7L346.6 168.8L348.6 167.4L353.7 165.0L359.1 162.4L364.6 178.7L369.3 185.2L374.3 180.9L375.5 181.3L380.3 190.8L385.8 194.0L391.4 201.1L396.9 205.9" stroke="#aaa" stroke-width="0.7" fill="none" stroke-linejoin="round"/>
<path d="M277.6 167.0L400.4 200.8" stroke="#222" stroke-width="1.1" fill="none"/>
<path d="M281.8 161.3V167.9M281.0 161.3h1.6M281.0 167.9h1.6M287.2 154.0V160.2M286.4 154.0h1.6M286.4 160.2h1.6M292.6 185.9V189.5M291.8 185.9h1.6M291.8 189.5h1.6M298.1 185.3V188.3M297.3 185.3h1.6M297.3 188.3h1.6M303.5 179.1V182.1M302.7 179.1h1.6M302.7 182.1h1.6M309.0 163.8V168.8M308.2 163.8h1.6M308.2 168.8h1.6M314.4 179.4V181.8M313.6 179.4h1.6M313.6 181.8h1.6M319.8 172.6V175.6M319.0 172.6h1.6M319.0 175.6h1.6M325.3 176.4V178.8M324.5 176.4h1.6M324.5 178.8h1.6M330.7 171.8V177.8M329.9 171.8h1.6M329.9 177.8h1.6M336.2 181.4V188.4M335.4 181.4h1.6M335.4 188.4h1.6M341.6 186.0V198.0M340.8 186.0h1.6M340.8 198.0h1.6M347.0 153.3V168.5M346.2 153.3h1.6M346.2 168.5h1.6M352.5 170.1V175.5M351.7 170.1h1.6M351.7 175.5h1.6M357.9 148.3V160.3M357.1 148.3h1.6M357.1 160.3h1.6M363.4 178.3V191.3M362.6 178.3h1.6M362.6 191.3h1.6M368.8 184.7V191.3M368.0 184.7h1.6M368.0 191.3h1.6M374.2 173.2V178.0M373.4 173.2h1.6M373.4 178.0h1.6M379.7 194.6V196.6M378.9 194.6h1.6M378.9 196.6h1.6M385.1 192.3V194.3M384.3 192.3h1.6M384.3 194.3h1.6M390.6 200.3V202.1M389.8 200.3h1.6M389.8 202.1h1.6M396.0 205.0V206.8M395.2 205.0h1.6M395.2 206.8h1.6" stroke="#555" stroke-width="0.5" fill="none"/>
<path d="M280.8 163.6h2v2h-2zM286.2 156.1h2v2h-2zM291.6 186.7h2v2h-2zM297.1 185.8h2v2h-2zM302.5 179.6h2v2h-2zM308.0 165.3h2v2h-2zM313.4 179.6h2v2h-2zM318.8 173.1h2v2h-2zM324.3 176.6h2v2h-2zM329.7 173.8h2v2h-2zM335.2 183.9h2v2h-2zM340.6 191.0h2v2h-2zM346.0 159.9h2v2h-2zM351.5 171.8h2v2h-2zM356.9 153.3h2v2h-2zM362.4 183.8h2v2h-2zM367.8 187.0h2v2h-2zM373.2 174.6h2v2h-2zM378.7 194.6h2v2h-2zM384.1 192.3h2v2h-2zM389.6 200.2h2v2h-2zM395.0 204.9h2v2h-2z" fill="#111"/>
<text x="272.8" y="135.1" font-size="6.6" text-anchor="middle" fill="#111" stroke="#111" stroke-width="0.15" transform="rotate(-90 272.8 135.1)">120</text>
<text x="272.8" y="157.6" font-size="6.6" text-anchor="middle" fill="#111" stroke="#111" stroke-width="0.15" transform="rotate(-90 272.8 157.6)">110</text>
<text x="272.8" y="180.0" font-size="6.6" text-anchor="middle" fill="#111" stroke="#111" stroke-width="0.15" transform="rotate(-90 272.8 180.0)">100</text>
<text x="272.8" y="202.5" font-size="6.6" text-anchor="middle" fill="#111" stroke="#111" stroke-width="0.15" transform="rotate(-90 272.8 202.5)">90</text>
<text x="272.8" y="225.0" font-size="6.6" text-anchor="middle" fill="#111" stroke="#111" stroke-width="0.15" transform="rotate(-90 272.8 225.0)">80</text>
<text x="287.2" y="238.6" font-size="6.6" text-anchor="middle" fill="#111" stroke="#111" stroke-width="0.15">1995</text>
<text x="314.4" y="238.6" font-size="6.6" text-anchor="middle" fill="#111" stroke="#111" stroke-width="0.15">2000</text>
<text x="341.6" y="238.6" font-size="6.6" text-anchor="middle" fill="#111" stroke="#111" stroke-width="0.15">2005</text>
<text x="368.8" y="238.6" font-size="6.6" text-anchor="middle" fill="#111" stroke="#111" stroke-width="0.15">2010</text>
<text x="396.0" y="238.6" font-size="6.6" text-anchor="middle" fill="#111" stroke="#111" stroke-width="0.15">2015</text>
<text x="339.9" y="249.4" font-size="7.8" text-anchor="middle" fill="#111" stroke="#111" stroke-width="0.15">Year</text>
<text x="259.8" y="180.0" font-size="7.8" text-anchor="middle" fill="#111" stroke="#111" stroke-width="0.15" transform="rotate(-90 259.8 180.0)">[CP] (mg g<tspan dy="-2.6" font-size="5.5">-1</tspan><tspan dy="2.6">)</tspan></text>
<text x="241.3" y="137.1" font-size="8.4" text-anchor="start" fill="#111" stroke="#111" stroke-width="0.15">(d)</text>
</g>
</svg></body></html>
